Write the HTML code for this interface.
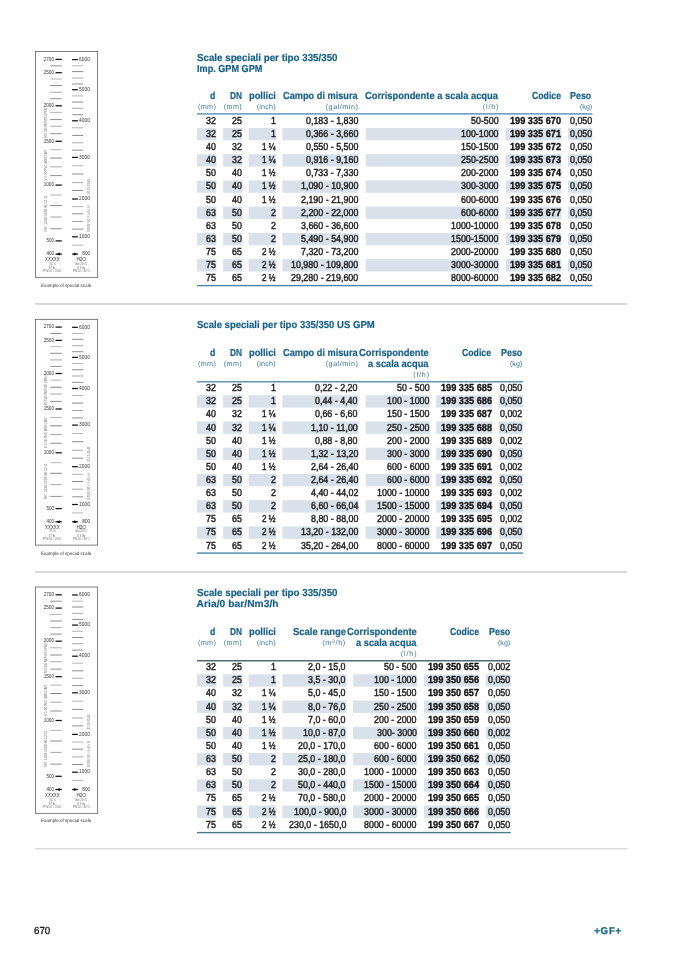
<!DOCTYPE html>
<html lang="it"><head><meta charset="utf-8"><title>Scale speciali per tipo 335/350</title>
<style>
html,body{margin:0;padding:0;background:#fff}
body{width:678px;height:959px;position:relative;overflow:hidden;font-family:"Liberation Sans",sans-serif;color:#1e1e1e}
.t{position:absolute;white-space:nowrap;line-height:1;margin:0;transform-origin:0 50%;text-rendering:geometricPrecision}
.bg{position:absolute;left:0;top:0}
sup{font-size:70%;line-height:0;vertical-align:baseline;position:relative;top:-0.4em}
</style></head><body>

<svg class="bg" width="678" height="959" viewBox="0 0 678 959">
<rect x="197.00" y="113.25" width="395.40" height="1.30" fill="#4a86ad"/>
<rect x="197.00" y="127.92" width="19.40" height="12.40" fill="#d9e2eb"/>
<rect x="223.10" y="127.92" width="19.20" height="12.40" fill="#d9e2eb"/>
<rect x="248.60" y="127.92" width="27.60" height="12.40" fill="#d9e2eb"/>
<rect x="282.40" y="127.92" width="76.10" height="12.40" fill="#d9e2eb"/>
<rect x="365.70" y="127.92" width="133.40" height="12.40" fill="#d9e2eb"/>
<rect x="505.70" y="127.92" width="55.70" height="12.40" fill="#d9e2eb"/>
<rect x="568.00" y="127.92" width="24.40" height="12.40" fill="#d9e2eb"/>
<rect x="197.00" y="154.16" width="19.40" height="12.40" fill="#d9e2eb"/>
<rect x="223.10" y="154.16" width="19.20" height="12.40" fill="#d9e2eb"/>
<rect x="248.60" y="154.16" width="27.60" height="12.40" fill="#d9e2eb"/>
<rect x="282.40" y="154.16" width="76.10" height="12.40" fill="#d9e2eb"/>
<rect x="365.70" y="154.16" width="133.40" height="12.40" fill="#d9e2eb"/>
<rect x="505.70" y="154.16" width="55.70" height="12.40" fill="#d9e2eb"/>
<rect x="568.00" y="154.16" width="24.40" height="12.40" fill="#d9e2eb"/>
<rect x="197.00" y="180.40" width="19.40" height="12.40" fill="#d9e2eb"/>
<rect x="223.10" y="180.40" width="19.20" height="12.40" fill="#d9e2eb"/>
<rect x="248.60" y="180.40" width="27.60" height="12.40" fill="#d9e2eb"/>
<rect x="282.40" y="180.40" width="76.10" height="12.40" fill="#d9e2eb"/>
<rect x="365.70" y="180.40" width="133.40" height="12.40" fill="#d9e2eb"/>
<rect x="505.70" y="180.40" width="55.70" height="12.40" fill="#d9e2eb"/>
<rect x="568.00" y="180.40" width="24.40" height="12.40" fill="#d9e2eb"/>
<rect x="197.00" y="206.64" width="19.40" height="12.40" fill="#d9e2eb"/>
<rect x="223.10" y="206.64" width="19.20" height="12.40" fill="#d9e2eb"/>
<rect x="248.60" y="206.64" width="27.60" height="12.40" fill="#d9e2eb"/>
<rect x="282.40" y="206.64" width="76.10" height="12.40" fill="#d9e2eb"/>
<rect x="365.70" y="206.64" width="133.40" height="12.40" fill="#d9e2eb"/>
<rect x="505.70" y="206.64" width="55.70" height="12.40" fill="#d9e2eb"/>
<rect x="568.00" y="206.64" width="24.40" height="12.40" fill="#d9e2eb"/>
<rect x="197.00" y="232.88" width="19.40" height="12.40" fill="#d9e2eb"/>
<rect x="223.10" y="232.88" width="19.20" height="12.40" fill="#d9e2eb"/>
<rect x="248.60" y="232.88" width="27.60" height="12.40" fill="#d9e2eb"/>
<rect x="282.40" y="232.88" width="76.10" height="12.40" fill="#d9e2eb"/>
<rect x="365.70" y="232.88" width="133.40" height="12.40" fill="#d9e2eb"/>
<rect x="505.70" y="232.88" width="55.70" height="12.40" fill="#d9e2eb"/>
<rect x="568.00" y="232.88" width="24.40" height="12.40" fill="#d9e2eb"/>
<rect x="197.00" y="259.12" width="19.40" height="12.40" fill="#d9e2eb"/>
<rect x="223.10" y="259.12" width="19.20" height="12.40" fill="#d9e2eb"/>
<rect x="248.60" y="259.12" width="27.60" height="12.40" fill="#d9e2eb"/>
<rect x="282.40" y="259.12" width="76.10" height="12.40" fill="#d9e2eb"/>
<rect x="365.70" y="259.12" width="133.40" height="12.40" fill="#d9e2eb"/>
<rect x="505.70" y="259.12" width="55.70" height="12.40" fill="#d9e2eb"/>
<rect x="568.00" y="259.12" width="24.40" height="12.40" fill="#d9e2eb"/>
<rect x="197.00" y="284.90" width="395.40" height="1.40" fill="#4a86ad"/>
<rect x="197.00" y="381.15" width="326.20" height="1.30" fill="#4a86ad"/>
<rect x="197.00" y="395.22" width="19.40" height="12.40" fill="#d9e2eb"/>
<rect x="223.10" y="395.22" width="19.20" height="12.40" fill="#d9e2eb"/>
<rect x="248.60" y="395.22" width="27.60" height="12.40" fill="#d9e2eb"/>
<rect x="282.40" y="395.22" width="76.10" height="12.40" fill="#d9e2eb"/>
<rect x="365.70" y="395.22" width="64.00" height="12.40" fill="#d9e2eb"/>
<rect x="436.20" y="395.22" width="56.00" height="12.40" fill="#d9e2eb"/>
<rect x="498.80" y="395.22" width="24.40" height="12.40" fill="#d9e2eb"/>
<rect x="197.00" y="421.46" width="19.40" height="12.40" fill="#d9e2eb"/>
<rect x="223.10" y="421.46" width="19.20" height="12.40" fill="#d9e2eb"/>
<rect x="248.60" y="421.46" width="27.60" height="12.40" fill="#d9e2eb"/>
<rect x="282.40" y="421.46" width="76.10" height="12.40" fill="#d9e2eb"/>
<rect x="365.70" y="421.46" width="64.00" height="12.40" fill="#d9e2eb"/>
<rect x="436.20" y="421.46" width="56.00" height="12.40" fill="#d9e2eb"/>
<rect x="498.80" y="421.46" width="24.40" height="12.40" fill="#d9e2eb"/>
<rect x="197.00" y="447.70" width="19.40" height="12.40" fill="#d9e2eb"/>
<rect x="223.10" y="447.70" width="19.20" height="12.40" fill="#d9e2eb"/>
<rect x="248.60" y="447.70" width="27.60" height="12.40" fill="#d9e2eb"/>
<rect x="282.40" y="447.70" width="76.10" height="12.40" fill="#d9e2eb"/>
<rect x="365.70" y="447.70" width="64.00" height="12.40" fill="#d9e2eb"/>
<rect x="436.20" y="447.70" width="56.00" height="12.40" fill="#d9e2eb"/>
<rect x="498.80" y="447.70" width="24.40" height="12.40" fill="#d9e2eb"/>
<rect x="197.00" y="473.94" width="19.40" height="12.40" fill="#d9e2eb"/>
<rect x="223.10" y="473.94" width="19.20" height="12.40" fill="#d9e2eb"/>
<rect x="248.60" y="473.94" width="27.60" height="12.40" fill="#d9e2eb"/>
<rect x="282.40" y="473.94" width="76.10" height="12.40" fill="#d9e2eb"/>
<rect x="365.70" y="473.94" width="64.00" height="12.40" fill="#d9e2eb"/>
<rect x="436.20" y="473.94" width="56.00" height="12.40" fill="#d9e2eb"/>
<rect x="498.80" y="473.94" width="24.40" height="12.40" fill="#d9e2eb"/>
<rect x="197.00" y="500.18" width="19.40" height="12.40" fill="#d9e2eb"/>
<rect x="223.10" y="500.18" width="19.20" height="12.40" fill="#d9e2eb"/>
<rect x="248.60" y="500.18" width="27.60" height="12.40" fill="#d9e2eb"/>
<rect x="282.40" y="500.18" width="76.10" height="12.40" fill="#d9e2eb"/>
<rect x="365.70" y="500.18" width="64.00" height="12.40" fill="#d9e2eb"/>
<rect x="436.20" y="500.18" width="56.00" height="12.40" fill="#d9e2eb"/>
<rect x="498.80" y="500.18" width="24.40" height="12.40" fill="#d9e2eb"/>
<rect x="197.00" y="526.42" width="19.40" height="12.40" fill="#d9e2eb"/>
<rect x="223.10" y="526.42" width="19.20" height="12.40" fill="#d9e2eb"/>
<rect x="248.60" y="526.42" width="27.60" height="12.40" fill="#d9e2eb"/>
<rect x="282.40" y="526.42" width="76.10" height="12.40" fill="#d9e2eb"/>
<rect x="365.70" y="526.42" width="64.00" height="12.40" fill="#d9e2eb"/>
<rect x="436.20" y="526.42" width="56.00" height="12.40" fill="#d9e2eb"/>
<rect x="498.80" y="526.42" width="24.40" height="12.40" fill="#d9e2eb"/>
<rect x="197.00" y="552.40" width="326.20" height="1.40" fill="#4a86ad"/>
<rect x="197.00" y="660.15" width="313.60" height="1.30" fill="#3a5663"/>
<rect x="197.00" y="674.32" width="19.40" height="12.40" fill="#d9e2eb"/>
<rect x="223.10" y="674.32" width="19.20" height="12.40" fill="#d9e2eb"/>
<rect x="248.60" y="674.32" width="27.60" height="12.40" fill="#d9e2eb"/>
<rect x="282.40" y="674.32" width="64.00" height="12.40" fill="#d9e2eb"/>
<rect x="353.10" y="674.32" width="64.10" height="12.40" fill="#d9e2eb"/>
<rect x="423.90" y="674.32" width="55.40" height="12.40" fill="#d9e2eb"/>
<rect x="485.80" y="674.32" width="24.80" height="12.40" fill="#d9e2eb"/>
<rect x="197.00" y="700.56" width="19.40" height="12.40" fill="#d9e2eb"/>
<rect x="223.10" y="700.56" width="19.20" height="12.40" fill="#d9e2eb"/>
<rect x="248.60" y="700.56" width="27.60" height="12.40" fill="#d9e2eb"/>
<rect x="282.40" y="700.56" width="64.00" height="12.40" fill="#d9e2eb"/>
<rect x="353.10" y="700.56" width="64.10" height="12.40" fill="#d9e2eb"/>
<rect x="423.90" y="700.56" width="55.40" height="12.40" fill="#d9e2eb"/>
<rect x="485.80" y="700.56" width="24.80" height="12.40" fill="#d9e2eb"/>
<rect x="197.00" y="726.80" width="19.40" height="12.40" fill="#d9e2eb"/>
<rect x="223.10" y="726.80" width="19.20" height="12.40" fill="#d9e2eb"/>
<rect x="248.60" y="726.80" width="27.60" height="12.40" fill="#d9e2eb"/>
<rect x="282.40" y="726.80" width="64.00" height="12.40" fill="#d9e2eb"/>
<rect x="353.10" y="726.80" width="64.10" height="12.40" fill="#d9e2eb"/>
<rect x="423.90" y="726.80" width="55.40" height="12.40" fill="#d9e2eb"/>
<rect x="485.80" y="726.80" width="24.80" height="12.40" fill="#d9e2eb"/>
<rect x="197.00" y="753.04" width="19.40" height="12.40" fill="#d9e2eb"/>
<rect x="223.10" y="753.04" width="19.20" height="12.40" fill="#d9e2eb"/>
<rect x="248.60" y="753.04" width="27.60" height="12.40" fill="#d9e2eb"/>
<rect x="282.40" y="753.04" width="64.00" height="12.40" fill="#d9e2eb"/>
<rect x="353.10" y="753.04" width="64.10" height="12.40" fill="#d9e2eb"/>
<rect x="423.90" y="753.04" width="55.40" height="12.40" fill="#d9e2eb"/>
<rect x="485.80" y="753.04" width="24.80" height="12.40" fill="#d9e2eb"/>
<rect x="197.00" y="779.28" width="19.40" height="12.40" fill="#d9e2eb"/>
<rect x="223.10" y="779.28" width="19.20" height="12.40" fill="#d9e2eb"/>
<rect x="248.60" y="779.28" width="27.60" height="12.40" fill="#d9e2eb"/>
<rect x="282.40" y="779.28" width="64.00" height="12.40" fill="#d9e2eb"/>
<rect x="353.10" y="779.28" width="64.10" height="12.40" fill="#d9e2eb"/>
<rect x="423.90" y="779.28" width="55.40" height="12.40" fill="#d9e2eb"/>
<rect x="485.80" y="779.28" width="24.80" height="12.40" fill="#d9e2eb"/>
<rect x="197.00" y="805.52" width="19.40" height="12.40" fill="#d9e2eb"/>
<rect x="223.10" y="805.52" width="19.20" height="12.40" fill="#d9e2eb"/>
<rect x="248.60" y="805.52" width="27.60" height="12.40" fill="#d9e2eb"/>
<rect x="282.40" y="805.52" width="64.00" height="12.40" fill="#d9e2eb"/>
<rect x="353.10" y="805.52" width="64.10" height="12.40" fill="#d9e2eb"/>
<rect x="423.90" y="805.52" width="55.40" height="12.40" fill="#d9e2eb"/>
<rect x="485.80" y="805.52" width="24.80" height="12.40" fill="#d9e2eb"/>
<rect x="197.00" y="831.90" width="313.60" height="1.40" fill="#4a7a88"/>
<rect x="35.20" y="303.10" width="592.00" height="1.70" fill="#d2d2d2"/>
<rect x="35.20" y="571.00" width="592.00" height="2.00" fill="#dadada"/>
<rect x="35.20" y="848.05" width="592.00" height="1.30" fill="#d4d4d4"/>
</svg>
<svg class="bg" width="678" height="959" viewBox="0 0 678 959" font-family="Liberation Sans, sans-serif">
<g transform="translate(0 0)"><rect x="35.5" y="51.6" width="62.2" height="225.7" fill="#fff" stroke="#4a4a4a" stroke-width="0.7"/><line x1="50.20" x2="61.80" y1="65.80" y2="65.80" stroke="#555" stroke-width="0.65"/><line x1="50.20" x2="61.80" y1="79.00" y2="79.00" stroke="#8c8c8c" stroke-width="0.65"/><line x1="50.20" x2="61.80" y1="85.60" y2="85.60" stroke="#4a4a4a" stroke-width="0.65"/><line x1="50.20" x2="61.80" y1="92.20" y2="92.20" stroke="#7a7a7a" stroke-width="0.65"/><line x1="50.20" x2="61.80" y1="98.70" y2="98.70" stroke="#555" stroke-width="0.65"/><line x1="50.20" x2="61.80" y1="112.40" y2="112.40" stroke="#8c8c8c" stroke-width="0.65"/><line x1="50.20" x2="61.80" y1="119.60" y2="119.60" stroke="#4a4a4a" stroke-width="0.65"/><line x1="50.20" x2="61.80" y1="126.30" y2="126.30" stroke="#7a7a7a" stroke-width="0.65"/><line x1="50.20" x2="61.80" y1="133.70" y2="133.70" stroke="#555" stroke-width="0.65"/><line x1="50.20" x2="61.80" y1="149.70" y2="149.70" stroke="#8c8c8c" stroke-width="0.65"/><line x1="50.20" x2="61.80" y1="158.10" y2="158.10" stroke="#4a4a4a" stroke-width="0.65"/><line x1="50.20" x2="61.80" y1="166.80" y2="166.80" stroke="#7a7a7a" stroke-width="0.65"/><line x1="50.20" x2="61.80" y1="175.60" y2="175.60" stroke="#555" stroke-width="0.65"/><line x1="50.20" x2="61.80" y1="195.00" y2="195.00" stroke="#8c8c8c" stroke-width="0.65"/><line x1="50.20" x2="61.80" y1="205.60" y2="205.60" stroke="#4a4a4a" stroke-width="0.65"/><line x1="50.20" x2="61.80" y1="217.00" y2="217.00" stroke="#7a7a7a" stroke-width="0.65"/><line x1="50.20" x2="61.80" y1="228.70" y2="228.70" stroke="#555" stroke-width="0.65"/><line x1="72.10" x2="83.20" y1="65.80" y2="65.80" stroke="#8c8c8c" stroke-width="0.65"/><line x1="72.10" x2="83.20" y1="71.60" y2="71.60" stroke="#4a4a4a" stroke-width="0.65"/><line x1="72.10" x2="83.20" y1="78.00" y2="78.00" stroke="#7a7a7a" stroke-width="0.65"/><line x1="72.10" x2="83.20" y1="84.00" y2="84.00" stroke="#555" stroke-width="0.65"/><line x1="72.10" x2="83.20" y1="95.90" y2="95.90" stroke="#8c8c8c" stroke-width="0.65"/><line x1="72.10" x2="83.20" y1="102.10" y2="102.10" stroke="#4a4a4a" stroke-width="0.65"/><line x1="72.10" x2="83.20" y1="108.30" y2="108.30" stroke="#7a7a7a" stroke-width="0.65"/><line x1="72.10" x2="83.20" y1="114.70" y2="114.70" stroke="#555" stroke-width="0.65"/><line x1="72.10" x2="83.20" y1="127.80" y2="127.80" stroke="#8c8c8c" stroke-width="0.65"/><line x1="72.10" x2="83.20" y1="135.40" y2="135.40" stroke="#4a4a4a" stroke-width="0.65"/><line x1="72.10" x2="83.20" y1="142.80" y2="142.80" stroke="#7a7a7a" stroke-width="0.65"/><line x1="72.10" x2="83.20" y1="150.20" y2="150.20" stroke="#555" stroke-width="0.65"/><line x1="72.10" x2="83.20" y1="165.80" y2="165.80" stroke="#8c8c8c" stroke-width="0.65"/><line x1="72.10" x2="83.20" y1="174.00" y2="174.00" stroke="#4a4a4a" stroke-width="0.65"/><line x1="72.10" x2="83.20" y1="182.60" y2="182.60" stroke="#7a7a7a" stroke-width="0.65"/><line x1="72.10" x2="83.20" y1="190.50" y2="190.50" stroke="#555" stroke-width="0.65"/><line x1="72.10" x2="83.20" y1="206.60" y2="206.60" stroke="#8c8c8c" stroke-width="0.65"/><line x1="72.10" x2="83.20" y1="213.80" y2="213.80" stroke="#4a4a4a" stroke-width="0.65"/><line x1="72.10" x2="83.20" y1="221.50" y2="221.50" stroke="#7a7a7a" stroke-width="0.65"/><line x1="72.10" x2="83.20" y1="229.10" y2="229.10" stroke="#555" stroke-width="0.65"/><line x1="72.10" x2="83.20" y1="245.20" y2="245.20" stroke="#8c8c8c" stroke-width="0.65"/><line x1="55.50" x2="61.80" y1="59.40" y2="59.40" stroke="#111" stroke-width="1.25"/><text x="54.00" y="60.70" font-size="4.9" text-anchor="end" fill="#333" textLength="10.3" lengthAdjust="spacingAndGlyphs">2700</text><line x1="55.50" x2="61.80" y1="72.70" y2="72.70" stroke="#111" stroke-width="1.25"/><text x="54.00" y="74.00" font-size="4.9" text-anchor="end" fill="#333" textLength="10.3" lengthAdjust="spacingAndGlyphs">2500</text><line x1="55.50" x2="61.80" y1="105.80" y2="105.80" stroke="#111" stroke-width="1.25"/><text x="54.00" y="107.10" font-size="4.9" text-anchor="end" fill="#333" textLength="10.3" lengthAdjust="spacingAndGlyphs">2000</text><line x1="55.50" x2="61.80" y1="141.30" y2="141.30" stroke="#111" stroke-width="1.25"/><text x="54.00" y="142.60" font-size="4.9" text-anchor="end" fill="#333" textLength="10.3" lengthAdjust="spacingAndGlyphs">1500</text><line x1="55.50" x2="61.80" y1="185.10" y2="185.10" stroke="#111" stroke-width="1.25"/><text x="54.00" y="186.40" font-size="4.9" text-anchor="end" fill="#333" textLength="10.3" lengthAdjust="spacingAndGlyphs">1000</text><line x1="55.50" x2="61.80" y1="240.90" y2="240.90" stroke="#111" stroke-width="1.25"/><text x="54.00" y="242.20" font-size="4.9" text-anchor="end" fill="#333" textLength="7.6" lengthAdjust="spacingAndGlyphs">500</text><line x1="72.10" x2="77.90" y1="59.60" y2="59.60" stroke="#111" stroke-width="1.25"/><text x="79.10" y="60.90" font-size="4.9" text-anchor="start" fill="#333" textLength="10.8" lengthAdjust="spacingAndGlyphs">6000</text><line x1="72.10" x2="77.90" y1="89.70" y2="89.70" stroke="#111" stroke-width="1.25"/><text x="79.10" y="91.00" font-size="4.9" text-anchor="start" fill="#333" textLength="10.8" lengthAdjust="spacingAndGlyphs">5000</text><line x1="72.10" x2="77.90" y1="120.80" y2="120.80" stroke="#111" stroke-width="1.25"/><text x="79.10" y="122.10" font-size="4.9" text-anchor="start" fill="#333" textLength="10.8" lengthAdjust="spacingAndGlyphs">4000</text><line x1="72.10" x2="77.90" y1="157.40" y2="157.40" stroke="#111" stroke-width="1.25"/><text x="79.10" y="158.70" font-size="4.9" text-anchor="start" fill="#333" textLength="10.8" lengthAdjust="spacingAndGlyphs">3000</text><line x1="72.10" x2="77.90" y1="199.00" y2="199.00" stroke="#111" stroke-width="1.25"/><text x="79.10" y="200.30" font-size="4.9" text-anchor="start" fill="#333" textLength="10.8" lengthAdjust="spacingAndGlyphs">2000</text><line x1="72.10" x2="77.90" y1="236.80" y2="236.80" stroke="#111" stroke-width="1.25"/><text x="79.10" y="238.10" font-size="4.9" text-anchor="start" fill="#333" textLength="10.8" lengthAdjust="spacingAndGlyphs">1000</text><line x1="55.50" x2="61.80" y1="254.10" y2="254.10" stroke="#111" stroke-width="1.25"/><path d="M57.50 253.50 L59.90 252.60 L59.90 255.60 L57.50 254.70Z" fill="#111"/><text x="54.00" y="255.40" font-size="4.9" text-anchor="end" fill="#333" textLength="7.6" lengthAdjust="spacingAndGlyphs">400</text><line x1="72.10" x2="77.90" y1="254.10" y2="254.10" stroke="#111" stroke-width="1.25"/><path d="M76.30 253.50 L73.90 252.60 L73.90 255.60 L76.30 254.70Z" fill="#111"/><text x="90.10" y="255.40" font-size="4.9" text-anchor="end" fill="#333" textLength="7.8" lengthAdjust="spacingAndGlyphs">800</text><text x="52.40" y="261.10" font-size="4.7" text-anchor="middle" fill="#333" textLength="14.6" lengthAdjust="spacingAndGlyphs">XXXXX</text><text x="81.20" y="261.10" font-size="4.7" text-anchor="middle" fill="#333" textLength="9.6" lengthAdjust="spacingAndGlyphs">H2O</text><text x="52.60" y="264.80" font-size="3.1" text-anchor="middle" fill="#666" textLength="6.6" lengthAdjust="spacingAndGlyphs">XX %</text><text x="81.20" y="264.80" font-size="3.1" text-anchor="middle" fill="#666" textLength="11.2" lengthAdjust="spacingAndGlyphs">bei 20°C</text><text x="51.90" y="269.00" font-size="4.0" text-anchor="middle" fill="#333" textLength="5.8" lengthAdjust="spacingAndGlyphs">l / h</text><text x="81.30" y="269.00" font-size="4.0" text-anchor="middle" fill="#333" textLength="7.4" lengthAdjust="spacingAndGlyphs">l / h</text><text x="52.00" y="272.20" font-size="2.7" text-anchor="middle" fill="#777" textLength="18.0" lengthAdjust="spacingAndGlyphs">PN10 / 200</text><text x="81.70" y="272.20" font-size="2.7" text-anchor="middle" fill="#777" textLength="18.0" lengthAdjust="spacingAndGlyphs">PN10 / 40°C</text><text transform="translate(46.60 137.90) rotate(-90)" font-size="2.6" fill="#6e6e6e" textLength="30" lengthAdjust="spacingAndGlyphs">SGT 335 PA PVDF EPDM</text><text transform="translate(46.60 180.40) rotate(-90)" font-size="2.6" fill="#6e6e6e" textLength="31" lengthAdjust="spacingAndGlyphs">V 5.50 PVC 40857 A/T</text><text transform="translate(46.60 231.40) rotate(-90)" font-size="2.6" fill="#6e6e6e" textLength="36" lengthAdjust="spacingAndGlyphs">NR. 1234 5678 90 12 11</text><text transform="translate(90.10 193.90) rotate(-90)" font-size="2.6" fill="#6e6e6e" textLength="15" lengthAdjust="spacingAndGlyphs">ID 19 23 45</text><text transform="translate(90.10 231.70) rotate(-90)" font-size="2.6" fill="#6e6e6e" textLength="26.5" lengthAdjust="spacingAndGlyphs">GEORG FISCHER +GF+ SK</text></g>
<g transform="translate(0 267.7)"><rect x="35.5" y="51.6" width="62.2" height="225.8" fill="#fff" stroke="#4a4a4a" stroke-width="0.7"/><line x1="50.20" x2="61.80" y1="65.80" y2="65.80" stroke="#555" stroke-width="0.65"/><line x1="50.20" x2="61.80" y1="79.00" y2="79.00" stroke="#8c8c8c" stroke-width="0.65"/><line x1="50.20" x2="61.80" y1="85.60" y2="85.60" stroke="#4a4a4a" stroke-width="0.65"/><line x1="50.20" x2="61.80" y1="92.20" y2="92.20" stroke="#7a7a7a" stroke-width="0.65"/><line x1="50.20" x2="61.80" y1="98.70" y2="98.70" stroke="#555" stroke-width="0.65"/><line x1="50.20" x2="61.80" y1="112.40" y2="112.40" stroke="#8c8c8c" stroke-width="0.65"/><line x1="50.20" x2="61.80" y1="119.60" y2="119.60" stroke="#4a4a4a" stroke-width="0.65"/><line x1="50.20" x2="61.80" y1="126.30" y2="126.30" stroke="#7a7a7a" stroke-width="0.65"/><line x1="50.20" x2="61.80" y1="133.70" y2="133.70" stroke="#555" stroke-width="0.65"/><line x1="50.20" x2="61.80" y1="149.70" y2="149.70" stroke="#8c8c8c" stroke-width="0.65"/><line x1="50.20" x2="61.80" y1="158.10" y2="158.10" stroke="#4a4a4a" stroke-width="0.65"/><line x1="50.20" x2="61.80" y1="166.80" y2="166.80" stroke="#7a7a7a" stroke-width="0.65"/><line x1="50.20" x2="61.80" y1="175.60" y2="175.60" stroke="#555" stroke-width="0.65"/><line x1="50.20" x2="61.80" y1="195.00" y2="195.00" stroke="#8c8c8c" stroke-width="0.65"/><line x1="50.20" x2="61.80" y1="205.60" y2="205.60" stroke="#4a4a4a" stroke-width="0.65"/><line x1="50.20" x2="61.80" y1="217.00" y2="217.00" stroke="#7a7a7a" stroke-width="0.65"/><line x1="50.20" x2="61.80" y1="228.70" y2="228.70" stroke="#555" stroke-width="0.65"/><line x1="72.10" x2="83.20" y1="65.80" y2="65.80" stroke="#8c8c8c" stroke-width="0.65"/><line x1="72.10" x2="83.20" y1="71.60" y2="71.60" stroke="#4a4a4a" stroke-width="0.65"/><line x1="72.10" x2="83.20" y1="78.00" y2="78.00" stroke="#7a7a7a" stroke-width="0.65"/><line x1="72.10" x2="83.20" y1="84.00" y2="84.00" stroke="#555" stroke-width="0.65"/><line x1="72.10" x2="83.20" y1="95.90" y2="95.90" stroke="#8c8c8c" stroke-width="0.65"/><line x1="72.10" x2="83.20" y1="102.10" y2="102.10" stroke="#4a4a4a" stroke-width="0.65"/><line x1="72.10" x2="83.20" y1="108.30" y2="108.30" stroke="#7a7a7a" stroke-width="0.65"/><line x1="72.10" x2="83.20" y1="114.70" y2="114.70" stroke="#555" stroke-width="0.65"/><line x1="72.10" x2="83.20" y1="127.80" y2="127.80" stroke="#8c8c8c" stroke-width="0.65"/><line x1="72.10" x2="83.20" y1="135.40" y2="135.40" stroke="#4a4a4a" stroke-width="0.65"/><line x1="72.10" x2="83.20" y1="142.80" y2="142.80" stroke="#7a7a7a" stroke-width="0.65"/><line x1="72.10" x2="83.20" y1="150.20" y2="150.20" stroke="#555" stroke-width="0.65"/><line x1="72.10" x2="83.20" y1="165.80" y2="165.80" stroke="#8c8c8c" stroke-width="0.65"/><line x1="72.10" x2="83.20" y1="174.00" y2="174.00" stroke="#4a4a4a" stroke-width="0.65"/><line x1="72.10" x2="83.20" y1="182.60" y2="182.60" stroke="#7a7a7a" stroke-width="0.65"/><line x1="72.10" x2="83.20" y1="190.50" y2="190.50" stroke="#555" stroke-width="0.65"/><line x1="72.10" x2="83.20" y1="206.60" y2="206.60" stroke="#8c8c8c" stroke-width="0.65"/><line x1="72.10" x2="83.20" y1="213.80" y2="213.80" stroke="#4a4a4a" stroke-width="0.65"/><line x1="72.10" x2="83.20" y1="221.50" y2="221.50" stroke="#7a7a7a" stroke-width="0.65"/><line x1="72.10" x2="83.20" y1="229.10" y2="229.10" stroke="#555" stroke-width="0.65"/><line x1="72.10" x2="83.20" y1="245.20" y2="245.20" stroke="#8c8c8c" stroke-width="0.65"/><line x1="55.50" x2="61.80" y1="59.40" y2="59.40" stroke="#111" stroke-width="1.25"/><text x="54.00" y="60.70" font-size="4.9" text-anchor="end" fill="#333" textLength="10.3" lengthAdjust="spacingAndGlyphs">2700</text><line x1="55.50" x2="61.80" y1="72.70" y2="72.70" stroke="#111" stroke-width="1.25"/><text x="54.00" y="74.00" font-size="4.9" text-anchor="end" fill="#333" textLength="10.3" lengthAdjust="spacingAndGlyphs">2500</text><line x1="55.50" x2="61.80" y1="105.80" y2="105.80" stroke="#111" stroke-width="1.25"/><text x="54.00" y="107.10" font-size="4.9" text-anchor="end" fill="#333" textLength="10.3" lengthAdjust="spacingAndGlyphs">2000</text><line x1="55.50" x2="61.80" y1="141.30" y2="141.30" stroke="#111" stroke-width="1.25"/><text x="54.00" y="142.60" font-size="4.9" text-anchor="end" fill="#333" textLength="10.3" lengthAdjust="spacingAndGlyphs">1500</text><line x1="55.50" x2="61.80" y1="185.10" y2="185.10" stroke="#111" stroke-width="1.25"/><text x="54.00" y="186.40" font-size="4.9" text-anchor="end" fill="#333" textLength="10.3" lengthAdjust="spacingAndGlyphs">1000</text><line x1="55.50" x2="61.80" y1="240.90" y2="240.90" stroke="#111" stroke-width="1.25"/><text x="54.00" y="242.20" font-size="4.9" text-anchor="end" fill="#333" textLength="7.6" lengthAdjust="spacingAndGlyphs">500</text><line x1="72.10" x2="77.90" y1="59.60" y2="59.60" stroke="#111" stroke-width="1.25"/><text x="79.10" y="60.90" font-size="4.9" text-anchor="start" fill="#333" textLength="10.8" lengthAdjust="spacingAndGlyphs">6000</text><line x1="72.10" x2="77.90" y1="89.70" y2="89.70" stroke="#111" stroke-width="1.25"/><text x="79.10" y="91.00" font-size="4.9" text-anchor="start" fill="#333" textLength="10.8" lengthAdjust="spacingAndGlyphs">5000</text><line x1="72.10" x2="77.90" y1="120.80" y2="120.80" stroke="#111" stroke-width="1.25"/><text x="79.10" y="122.10" font-size="4.9" text-anchor="start" fill="#333" textLength="10.8" lengthAdjust="spacingAndGlyphs">4000</text><line x1="72.10" x2="77.90" y1="157.40" y2="157.40" stroke="#111" stroke-width="1.25"/><text x="79.10" y="158.70" font-size="4.9" text-anchor="start" fill="#333" textLength="10.8" lengthAdjust="spacingAndGlyphs">3000</text><line x1="72.10" x2="77.90" y1="199.00" y2="199.00" stroke="#111" stroke-width="1.25"/><text x="79.10" y="200.30" font-size="4.9" text-anchor="start" fill="#333" textLength="10.8" lengthAdjust="spacingAndGlyphs">2000</text><line x1="72.10" x2="77.90" y1="236.80" y2="236.80" stroke="#111" stroke-width="1.25"/><text x="79.10" y="238.10" font-size="4.9" text-anchor="start" fill="#333" textLength="10.8" lengthAdjust="spacingAndGlyphs">1000</text><line x1="55.50" x2="61.80" y1="254.10" y2="254.10" stroke="#111" stroke-width="1.25"/><path d="M57.50 253.50 L59.90 252.60 L59.90 255.60 L57.50 254.70Z" fill="#111"/><text x="54.00" y="255.40" font-size="4.9" text-anchor="end" fill="#333" textLength="7.6" lengthAdjust="spacingAndGlyphs">400</text><line x1="72.10" x2="77.90" y1="254.10" y2="254.10" stroke="#111" stroke-width="1.25"/><path d="M76.30 253.50 L73.90 252.60 L73.90 255.60 L76.30 254.70Z" fill="#111"/><text x="90.10" y="255.40" font-size="4.9" text-anchor="end" fill="#333" textLength="7.8" lengthAdjust="spacingAndGlyphs">800</text><text x="52.40" y="261.10" font-size="4.7" text-anchor="middle" fill="#333" textLength="14.6" lengthAdjust="spacingAndGlyphs">XXXXX</text><text x="81.20" y="261.10" font-size="4.7" text-anchor="middle" fill="#333" textLength="9.6" lengthAdjust="spacingAndGlyphs">H2O</text><text x="52.60" y="264.80" font-size="3.1" text-anchor="middle" fill="#666" textLength="6.6" lengthAdjust="spacingAndGlyphs">XX %</text><text x="81.20" y="264.80" font-size="3.1" text-anchor="middle" fill="#666" textLength="11.2" lengthAdjust="spacingAndGlyphs">bei 20°C</text><text x="51.90" y="269.00" font-size="4.0" text-anchor="middle" fill="#333" textLength="5.8" lengthAdjust="spacingAndGlyphs">l / h</text><text x="81.30" y="269.00" font-size="4.0" text-anchor="middle" fill="#333" textLength="7.4" lengthAdjust="spacingAndGlyphs">l / h</text><text x="52.00" y="272.20" font-size="2.7" text-anchor="middle" fill="#777" textLength="18.0" lengthAdjust="spacingAndGlyphs">PN10 / 200</text><text x="81.70" y="272.20" font-size="2.7" text-anchor="middle" fill="#777" textLength="18.0" lengthAdjust="spacingAndGlyphs">PN10 / 40°C</text><text transform="translate(46.60 137.90) rotate(-90)" font-size="2.6" fill="#6e6e6e" textLength="30" lengthAdjust="spacingAndGlyphs">SGT 335 PA PVDF EPDM</text><text transform="translate(46.60 180.40) rotate(-90)" font-size="2.6" fill="#6e6e6e" textLength="31" lengthAdjust="spacingAndGlyphs">V 5.50 PVC 40857 A/T</text><text transform="translate(46.60 231.40) rotate(-90)" font-size="2.6" fill="#6e6e6e" textLength="36" lengthAdjust="spacingAndGlyphs">NR. 1234 5678 90 12 11</text><text transform="translate(90.10 193.90) rotate(-90)" font-size="2.6" fill="#6e6e6e" textLength="15" lengthAdjust="spacingAndGlyphs">ID 19 23 45</text><text transform="translate(90.10 231.70) rotate(-90)" font-size="2.6" fill="#6e6e6e" textLength="26.5" lengthAdjust="spacingAndGlyphs">GEORG FISCHER +GF+ SK</text></g>
<g transform="translate(0 535.4)"><rect x="35.5" y="51.6" width="62.2" height="226.3" fill="#fff" stroke="#4a4a4a" stroke-width="0.7"/><line x1="50.20" x2="61.80" y1="65.80" y2="65.80" stroke="#555" stroke-width="0.65"/><line x1="50.20" x2="61.80" y1="79.00" y2="79.00" stroke="#8c8c8c" stroke-width="0.65"/><line x1="50.20" x2="61.80" y1="85.60" y2="85.60" stroke="#4a4a4a" stroke-width="0.65"/><line x1="50.20" x2="61.80" y1="92.20" y2="92.20" stroke="#7a7a7a" stroke-width="0.65"/><line x1="50.20" x2="61.80" y1="98.70" y2="98.70" stroke="#555" stroke-width="0.65"/><line x1="50.20" x2="61.80" y1="112.40" y2="112.40" stroke="#8c8c8c" stroke-width="0.65"/><line x1="50.20" x2="61.80" y1="119.60" y2="119.60" stroke="#4a4a4a" stroke-width="0.65"/><line x1="50.20" x2="61.80" y1="126.30" y2="126.30" stroke="#7a7a7a" stroke-width="0.65"/><line x1="50.20" x2="61.80" y1="133.70" y2="133.70" stroke="#555" stroke-width="0.65"/><line x1="50.20" x2="61.80" y1="149.70" y2="149.70" stroke="#8c8c8c" stroke-width="0.65"/><line x1="50.20" x2="61.80" y1="158.10" y2="158.10" stroke="#4a4a4a" stroke-width="0.65"/><line x1="50.20" x2="61.80" y1="166.80" y2="166.80" stroke="#7a7a7a" stroke-width="0.65"/><line x1="50.20" x2="61.80" y1="175.60" y2="175.60" stroke="#555" stroke-width="0.65"/><line x1="50.20" x2="61.80" y1="195.00" y2="195.00" stroke="#8c8c8c" stroke-width="0.65"/><line x1="50.20" x2="61.80" y1="205.60" y2="205.60" stroke="#4a4a4a" stroke-width="0.65"/><line x1="50.20" x2="61.80" y1="217.00" y2="217.00" stroke="#7a7a7a" stroke-width="0.65"/><line x1="50.20" x2="61.80" y1="228.70" y2="228.70" stroke="#555" stroke-width="0.65"/><line x1="72.10" x2="83.20" y1="65.80" y2="65.80" stroke="#8c8c8c" stroke-width="0.65"/><line x1="72.10" x2="83.20" y1="71.60" y2="71.60" stroke="#4a4a4a" stroke-width="0.65"/><line x1="72.10" x2="83.20" y1="78.00" y2="78.00" stroke="#7a7a7a" stroke-width="0.65"/><line x1="72.10" x2="83.20" y1="84.00" y2="84.00" stroke="#555" stroke-width="0.65"/><line x1="72.10" x2="83.20" y1="95.90" y2="95.90" stroke="#8c8c8c" stroke-width="0.65"/><line x1="72.10" x2="83.20" y1="102.10" y2="102.10" stroke="#4a4a4a" stroke-width="0.65"/><line x1="72.10" x2="83.20" y1="108.30" y2="108.30" stroke="#7a7a7a" stroke-width="0.65"/><line x1="72.10" x2="83.20" y1="114.70" y2="114.70" stroke="#555" stroke-width="0.65"/><line x1="72.10" x2="83.20" y1="127.80" y2="127.80" stroke="#8c8c8c" stroke-width="0.65"/><line x1="72.10" x2="83.20" y1="135.40" y2="135.40" stroke="#4a4a4a" stroke-width="0.65"/><line x1="72.10" x2="83.20" y1="142.80" y2="142.80" stroke="#7a7a7a" stroke-width="0.65"/><line x1="72.10" x2="83.20" y1="150.20" y2="150.20" stroke="#555" stroke-width="0.65"/><line x1="72.10" x2="83.20" y1="165.80" y2="165.80" stroke="#8c8c8c" stroke-width="0.65"/><line x1="72.10" x2="83.20" y1="174.00" y2="174.00" stroke="#4a4a4a" stroke-width="0.65"/><line x1="72.10" x2="83.20" y1="182.60" y2="182.60" stroke="#7a7a7a" stroke-width="0.65"/><line x1="72.10" x2="83.20" y1="190.50" y2="190.50" stroke="#555" stroke-width="0.65"/><line x1="72.10" x2="83.20" y1="206.60" y2="206.60" stroke="#8c8c8c" stroke-width="0.65"/><line x1="72.10" x2="83.20" y1="213.80" y2="213.80" stroke="#4a4a4a" stroke-width="0.65"/><line x1="72.10" x2="83.20" y1="221.50" y2="221.50" stroke="#7a7a7a" stroke-width="0.65"/><line x1="72.10" x2="83.20" y1="229.10" y2="229.10" stroke="#555" stroke-width="0.65"/><line x1="72.10" x2="83.20" y1="245.20" y2="245.20" stroke="#8c8c8c" stroke-width="0.65"/><line x1="55.50" x2="61.80" y1="59.40" y2="59.40" stroke="#111" stroke-width="1.25"/><text x="54.00" y="60.70" font-size="4.9" text-anchor="end" fill="#333" textLength="10.3" lengthAdjust="spacingAndGlyphs">2700</text><line x1="55.50" x2="61.80" y1="72.70" y2="72.70" stroke="#111" stroke-width="1.25"/><text x="54.00" y="74.00" font-size="4.9" text-anchor="end" fill="#333" textLength="10.3" lengthAdjust="spacingAndGlyphs">2500</text><line x1="55.50" x2="61.80" y1="105.80" y2="105.80" stroke="#111" stroke-width="1.25"/><text x="54.00" y="107.10" font-size="4.9" text-anchor="end" fill="#333" textLength="10.3" lengthAdjust="spacingAndGlyphs">2000</text><line x1="55.50" x2="61.80" y1="141.30" y2="141.30" stroke="#111" stroke-width="1.25"/><text x="54.00" y="142.60" font-size="4.9" text-anchor="end" fill="#333" textLength="10.3" lengthAdjust="spacingAndGlyphs">1500</text><line x1="55.50" x2="61.80" y1="185.10" y2="185.10" stroke="#111" stroke-width="1.25"/><text x="54.00" y="186.40" font-size="4.9" text-anchor="end" fill="#333" textLength="10.3" lengthAdjust="spacingAndGlyphs">1000</text><line x1="55.50" x2="61.80" y1="240.90" y2="240.90" stroke="#111" stroke-width="1.25"/><text x="54.00" y="242.20" font-size="4.9" text-anchor="end" fill="#333" textLength="7.6" lengthAdjust="spacingAndGlyphs">500</text><line x1="72.10" x2="77.90" y1="59.60" y2="59.60" stroke="#111" stroke-width="1.25"/><text x="79.10" y="60.90" font-size="4.9" text-anchor="start" fill="#333" textLength="10.8" lengthAdjust="spacingAndGlyphs">6000</text><line x1="72.10" x2="77.90" y1="89.70" y2="89.70" stroke="#111" stroke-width="1.25"/><text x="79.10" y="91.00" font-size="4.9" text-anchor="start" fill="#333" textLength="10.8" lengthAdjust="spacingAndGlyphs">5000</text><line x1="72.10" x2="77.90" y1="120.80" y2="120.80" stroke="#111" stroke-width="1.25"/><text x="79.10" y="122.10" font-size="4.9" text-anchor="start" fill="#333" textLength="10.8" lengthAdjust="spacingAndGlyphs">4000</text><line x1="72.10" x2="77.90" y1="157.40" y2="157.40" stroke="#111" stroke-width="1.25"/><text x="79.10" y="158.70" font-size="4.9" text-anchor="start" fill="#333" textLength="10.8" lengthAdjust="spacingAndGlyphs">3000</text><line x1="72.10" x2="77.90" y1="199.00" y2="199.00" stroke="#111" stroke-width="1.25"/><text x="79.10" y="200.30" font-size="4.9" text-anchor="start" fill="#333" textLength="10.8" lengthAdjust="spacingAndGlyphs">2000</text><line x1="72.10" x2="77.90" y1="236.80" y2="236.80" stroke="#111" stroke-width="1.25"/><text x="79.10" y="238.10" font-size="4.9" text-anchor="start" fill="#333" textLength="10.8" lengthAdjust="spacingAndGlyphs">1000</text><line x1="55.50" x2="61.80" y1="254.10" y2="254.10" stroke="#111" stroke-width="1.25"/><path d="M57.50 253.50 L59.90 252.60 L59.90 255.60 L57.50 254.70Z" fill="#111"/><text x="54.00" y="255.40" font-size="4.9" text-anchor="end" fill="#333" textLength="7.6" lengthAdjust="spacingAndGlyphs">400</text><line x1="72.10" x2="77.90" y1="254.10" y2="254.10" stroke="#111" stroke-width="1.25"/><path d="M76.30 253.50 L73.90 252.60 L73.90 255.60 L76.30 254.70Z" fill="#111"/><text x="90.10" y="255.40" font-size="4.9" text-anchor="end" fill="#333" textLength="7.8" lengthAdjust="spacingAndGlyphs">800</text><text x="52.40" y="261.80" font-size="4.7" text-anchor="middle" fill="#333" textLength="14.6" lengthAdjust="spacingAndGlyphs">XXXXX</text><text x="81.20" y="261.80" font-size="4.7" text-anchor="middle" fill="#333" textLength="9.6" lengthAdjust="spacingAndGlyphs">H2O</text><text x="52.60" y="265.50" font-size="3.1" text-anchor="middle" fill="#666" textLength="6.6" lengthAdjust="spacingAndGlyphs">XX %</text><text x="81.20" y="265.50" font-size="3.1" text-anchor="middle" fill="#666" textLength="11.2" lengthAdjust="spacingAndGlyphs">bei 20°C</text><text x="51.90" y="269.70" font-size="4.0" text-anchor="middle" fill="#333" textLength="5.8" lengthAdjust="spacingAndGlyphs">l / h</text><text x="81.30" y="269.70" font-size="4.0" text-anchor="middle" fill="#333" textLength="7.4" lengthAdjust="spacingAndGlyphs">l / h</text><text x="52.00" y="272.90" font-size="2.7" text-anchor="middle" fill="#777" textLength="18.0" lengthAdjust="spacingAndGlyphs">PN10 / 200</text><text x="81.70" y="272.90" font-size="2.7" text-anchor="middle" fill="#777" textLength="18.0" lengthAdjust="spacingAndGlyphs">PN10 / 40°C</text><text transform="translate(46.60 137.90) rotate(-90)" font-size="2.6" fill="#6e6e6e" textLength="30" lengthAdjust="spacingAndGlyphs">SGT 335 PA PVDF EPDM</text><text transform="translate(46.60 180.40) rotate(-90)" font-size="2.6" fill="#6e6e6e" textLength="31" lengthAdjust="spacingAndGlyphs">V 5.50 PVC 40857 A/T</text><text transform="translate(46.60 231.40) rotate(-90)" font-size="2.6" fill="#6e6e6e" textLength="36" lengthAdjust="spacingAndGlyphs">NR. 1234 5678 90 12 11</text><text transform="translate(90.10 193.90) rotate(-90)" font-size="2.6" fill="#6e6e6e" textLength="15" lengthAdjust="spacingAndGlyphs">ID 19 23 45</text><text transform="translate(90.10 231.70) rotate(-90)" font-size="2.6" fill="#6e6e6e" textLength="26.5" lengthAdjust="spacingAndGlyphs">GEORG FISCHER +GF+ SK</text></g>
</svg>
<div class="t" style="left:196.60px;top:54px;font-size:10.2px;color:#165f88;font-weight:700;transform:scaleX(0.9579);-webkit-text-stroke:0.2px">Scale speciali per tipo 335/350</div>
<div class="t" style="left:196.60px;top:65px;font-size:10.2px;color:#165f88;font-weight:700;transform:scaleX(0.8943);-webkit-text-stroke:0.2px">Imp. GPM GPM</div>
<div class="t" style="left:210.30px;top:92px;font-size:10.2px;color:#165f88;font-weight:700;transform:scaleX(0.8501);-webkit-text-stroke:0.2px">d</div>
<div class="t" style="left:229.50px;top:92px;font-size:10.2px;color:#165f88;font-weight:700;transform:scaleX(0.8153);-webkit-text-stroke:0.2px">DN</div>
<div class="t" style="left:248.50px;top:92px;font-size:10.2px;color:#165f88;font-weight:700;transform:scaleX(0.9138);-webkit-text-stroke:0.2px">pollici</div>
<div class="t" style="left:283.00px;top:92px;font-size:10.2px;color:#165f88;font-weight:700;transform:scaleX(0.9037);-webkit-text-stroke:0.2px">Campo di misura</div>
<div class="t" style="left:365.30px;top:92px;font-size:10.2px;color:#165f88;font-weight:700;transform:scaleX(0.9175);-webkit-text-stroke:0.2px">Corrispondente a scala acqua</div>
<div class="t" style="left:531.60px;top:92px;font-size:10.2px;color:#165f88;font-weight:700;transform:scaleX(0.8537);-webkit-text-stroke:0.2px">Codice</div>
<div class="t" style="left:570.30px;top:92px;font-size:10.2px;color:#165f88;font-weight:700;transform:scaleX(0.8744);-webkit-text-stroke:0.2px">Peso</div>
<div class="t" style="left:197.90px;top:103px;font-size:7.2px;color:#3a7499;letter-spacing:0.378px">(mm)</div>
<div class="t" style="left:223.80px;top:103px;font-size:7.2px;color:#3a7499;letter-spacing:0.378px">(mm)</div>
<div class="t" style="left:256.70px;top:103px;font-size:7.2px;color:#3a7499;letter-spacing:0.183px">(inch)</div>
<div class="t" style="left:325.70px;top:103px;font-size:7.2px;color:#3a7499;letter-spacing:0.529px">(gal/min)</div>
<div class="t" style="left:482.70px;top:103px;font-size:7.2px;color:#3a7499;letter-spacing:0.852px">(l/h)</div>
<div class="t" style="left:579.60px;top:103px;font-size:7.2px;color:#3a7499;transform:scaleX(0.9846)">(kg)</div>
<div class="t" style="left:206.00px;top:117px;font-size:10.2px;color:#1e1e1e;transform:scaleX(0.8725);-webkit-text-stroke:0.45px">32</div>
<div class="t" style="left:231.90px;top:117px;font-size:10.2px;color:#1e1e1e;transform:scaleX(0.8725);-webkit-text-stroke:0.45px">25</div>
<div class="t" style="left:270.75px;top:117px;font-size:10.2px;color:#1e1e1e;transform:scaleX(0.8725);-webkit-text-stroke:0.45px">1</div>
<div class="t" style="left:305.61px;top:117px;font-size:10.2px;color:#1e1e1e;transform:scaleX(0.8725);-webkit-text-stroke:0.45px">0,183 - 1,830</div>
<div class="t" style="left:470.91px;top:117px;font-size:10.2px;color:#1e1e1e;transform:scaleX(0.8725);-webkit-text-stroke:0.45px">50-500</div>
<div class="t" style="left:509.91px;top:117px;font-size:10.2px;color:#111;font-weight:700;transform:scaleX(0.9000);-webkit-text-stroke:0.35px">199 335 670</div>
<div class="t" style="left:569.65px;top:117px;font-size:10.2px;color:#1e1e1e;transform:scaleX(0.8725);-webkit-text-stroke:0.45px">0,050</div>
<div class="t" style="left:206.00px;top:130px;font-size:10.2px;color:#1e1e1e;transform:scaleX(0.8725);-webkit-text-stroke:0.45px">32</div>
<div class="t" style="left:231.90px;top:130px;font-size:10.2px;color:#1e1e1e;transform:scaleX(0.8725);-webkit-text-stroke:0.45px">25</div>
<div class="t" style="left:270.75px;top:130px;font-size:10.2px;color:#1e1e1e;transform:scaleX(0.8725);-webkit-text-stroke:0.45px">1</div>
<div class="t" style="left:305.61px;top:130px;font-size:10.2px;color:#1e1e1e;transform:scaleX(0.8725);-webkit-text-stroke:0.45px">0,366 - 3,660</div>
<div class="t" style="left:461.03px;top:130px;font-size:10.2px;color:#1e1e1e;transform:scaleX(0.8725);-webkit-text-stroke:0.45px">100-1000</div>
<div class="t" style="left:509.91px;top:130px;font-size:10.2px;color:#111;font-weight:700;transform:scaleX(0.9000);-webkit-text-stroke:0.35px">199 335 671</div>
<div class="t" style="left:569.65px;top:130px;font-size:10.2px;color:#1e1e1e;transform:scaleX(0.8725);-webkit-text-stroke:0.45px">0,050</div>
<div class="t" style="left:206.00px;top:143px;font-size:10.2px;color:#1e1e1e;transform:scaleX(0.8725);-webkit-text-stroke:0.45px">40</div>
<div class="t" style="left:231.90px;top:143px;font-size:10.2px;color:#1e1e1e;transform:scaleX(0.8725);-webkit-text-stroke:0.45px">32</div>
<div class="t" style="left:262.27px;top:143px;font-size:10.2px;color:#1e1e1e;transform:scaleX(0.7900);-webkit-text-stroke:0.45px">1 ¼</div>
<div class="t" style="left:305.61px;top:143px;font-size:10.2px;color:#1e1e1e;transform:scaleX(0.8725);-webkit-text-stroke:0.45px">0,550 - 5,500</div>
<div class="t" style="left:461.03px;top:143px;font-size:10.2px;color:#1e1e1e;transform:scaleX(0.8725);-webkit-text-stroke:0.45px">150-1500</div>
<div class="t" style="left:509.91px;top:143px;font-size:10.2px;color:#111;font-weight:700;transform:scaleX(0.9000);-webkit-text-stroke:0.35px">199 335 672</div>
<div class="t" style="left:569.65px;top:143px;font-size:10.2px;color:#1e1e1e;transform:scaleX(0.8725);-webkit-text-stroke:0.45px">0,050</div>
<div class="t" style="left:206.00px;top:156px;font-size:10.2px;color:#1e1e1e;transform:scaleX(0.8725);-webkit-text-stroke:0.45px">40</div>
<div class="t" style="left:231.90px;top:156px;font-size:10.2px;color:#1e1e1e;transform:scaleX(0.8725);-webkit-text-stroke:0.45px">32</div>
<div class="t" style="left:262.27px;top:156px;font-size:10.2px;color:#1e1e1e;transform:scaleX(0.7900);-webkit-text-stroke:0.45px">1 ¼</div>
<div class="t" style="left:305.61px;top:156px;font-size:10.2px;color:#1e1e1e;transform:scaleX(0.8725);-webkit-text-stroke:0.45px">0,916 - 9,160</div>
<div class="t" style="left:461.03px;top:156px;font-size:10.2px;color:#1e1e1e;transform:scaleX(0.8725);-webkit-text-stroke:0.45px">250-2500</div>
<div class="t" style="left:509.91px;top:156px;font-size:10.2px;color:#111;font-weight:700;transform:scaleX(0.9000);-webkit-text-stroke:0.35px">199 335 673</div>
<div class="t" style="left:569.65px;top:156px;font-size:10.2px;color:#1e1e1e;transform:scaleX(0.8725);-webkit-text-stroke:0.45px">0,050</div>
<div class="t" style="left:206.00px;top:169px;font-size:10.2px;color:#1e1e1e;transform:scaleX(0.8725);-webkit-text-stroke:0.45px">50</div>
<div class="t" style="left:231.90px;top:169px;font-size:10.2px;color:#1e1e1e;transform:scaleX(0.8725);-webkit-text-stroke:0.45px">40</div>
<div class="t" style="left:262.27px;top:169px;font-size:10.2px;color:#1e1e1e;transform:scaleX(0.7900);-webkit-text-stroke:0.45px">1 ½</div>
<div class="t" style="left:305.61px;top:169px;font-size:10.2px;color:#1e1e1e;transform:scaleX(0.8725);-webkit-text-stroke:0.45px">0,733 - 7,330</div>
<div class="t" style="left:461.03px;top:169px;font-size:10.2px;color:#1e1e1e;transform:scaleX(0.8725);-webkit-text-stroke:0.45px">200-2000</div>
<div class="t" style="left:509.91px;top:169px;font-size:10.2px;color:#111;font-weight:700;transform:scaleX(0.9000);-webkit-text-stroke:0.35px">199 335 674</div>
<div class="t" style="left:569.65px;top:169px;font-size:10.2px;color:#1e1e1e;transform:scaleX(0.8725);-webkit-text-stroke:0.45px">0,050</div>
<div class="t" style="left:206.00px;top:182px;font-size:10.2px;color:#1e1e1e;transform:scaleX(0.8725);-webkit-text-stroke:0.45px">50</div>
<div class="t" style="left:231.90px;top:182px;font-size:10.2px;color:#1e1e1e;transform:scaleX(0.8725);-webkit-text-stroke:0.45px">40</div>
<div class="t" style="left:262.27px;top:182px;font-size:10.2px;color:#1e1e1e;transform:scaleX(0.7900);-webkit-text-stroke:0.45px">1 ½</div>
<div class="t" style="left:300.66px;top:182px;font-size:10.2px;color:#1e1e1e;transform:scaleX(0.8725);-webkit-text-stroke:0.45px">1,090 - 10,900</div>
<div class="t" style="left:461.03px;top:182px;font-size:10.2px;color:#1e1e1e;transform:scaleX(0.8725);-webkit-text-stroke:0.45px">300-3000</div>
<div class="t" style="left:509.91px;top:182px;font-size:10.2px;color:#111;font-weight:700;transform:scaleX(0.9000);-webkit-text-stroke:0.35px">199 335 675</div>
<div class="t" style="left:569.65px;top:182px;font-size:10.2px;color:#1e1e1e;transform:scaleX(0.8725);-webkit-text-stroke:0.45px">0,050</div>
<div class="t" style="left:206.00px;top:196px;font-size:10.2px;color:#1e1e1e;transform:scaleX(0.8725);-webkit-text-stroke:0.45px">50</div>
<div class="t" style="left:231.90px;top:196px;font-size:10.2px;color:#1e1e1e;transform:scaleX(0.8725);-webkit-text-stroke:0.45px">40</div>
<div class="t" style="left:262.27px;top:196px;font-size:10.2px;color:#1e1e1e;transform:scaleX(0.7900);-webkit-text-stroke:0.45px">1 ½</div>
<div class="t" style="left:300.66px;top:196px;font-size:10.2px;color:#1e1e1e;transform:scaleX(0.8725);-webkit-text-stroke:0.45px">2,190 - 21,900</div>
<div class="t" style="left:461.03px;top:196px;font-size:10.2px;color:#1e1e1e;transform:scaleX(0.8725);-webkit-text-stroke:0.45px">600-6000</div>
<div class="t" style="left:509.91px;top:196px;font-size:10.2px;color:#111;font-weight:700;transform:scaleX(0.9000);-webkit-text-stroke:0.35px">199 335 676</div>
<div class="t" style="left:569.65px;top:196px;font-size:10.2px;color:#1e1e1e;transform:scaleX(0.8725);-webkit-text-stroke:0.45px">0,050</div>
<div class="t" style="left:206.00px;top:209px;font-size:10.2px;color:#1e1e1e;transform:scaleX(0.8725);-webkit-text-stroke:0.45px">63</div>
<div class="t" style="left:231.90px;top:209px;font-size:10.2px;color:#1e1e1e;transform:scaleX(0.8725);-webkit-text-stroke:0.45px">50</div>
<div class="t" style="left:270.75px;top:209px;font-size:10.2px;color:#1e1e1e;transform:scaleX(0.8725);-webkit-text-stroke:0.45px">2</div>
<div class="t" style="left:300.66px;top:209px;font-size:10.2px;color:#1e1e1e;transform:scaleX(0.8725);-webkit-text-stroke:0.45px">2,200 - 22,000</div>
<div class="t" style="left:461.03px;top:209px;font-size:10.2px;color:#1e1e1e;transform:scaleX(0.8725);-webkit-text-stroke:0.45px">600-6000</div>
<div class="t" style="left:509.91px;top:209px;font-size:10.2px;color:#111;font-weight:700;transform:scaleX(0.9000);-webkit-text-stroke:0.35px">199 335 677</div>
<div class="t" style="left:569.65px;top:209px;font-size:10.2px;color:#1e1e1e;transform:scaleX(0.8725);-webkit-text-stroke:0.45px">0,050</div>
<div class="t" style="left:206.00px;top:222px;font-size:10.2px;color:#1e1e1e;transform:scaleX(0.8725);-webkit-text-stroke:0.45px">63</div>
<div class="t" style="left:231.90px;top:222px;font-size:10.2px;color:#1e1e1e;transform:scaleX(0.8725);-webkit-text-stroke:0.45px">50</div>
<div class="t" style="left:270.75px;top:222px;font-size:10.2px;color:#1e1e1e;transform:scaleX(0.8725);-webkit-text-stroke:0.45px">2</div>
<div class="t" style="left:300.66px;top:222px;font-size:10.2px;color:#1e1e1e;transform:scaleX(0.8725);-webkit-text-stroke:0.45px">3,660 - 36,600</div>
<div class="t" style="left:451.14px;top:222px;font-size:10.2px;color:#1e1e1e;transform:scaleX(0.8725);-webkit-text-stroke:0.45px">1000-10000</div>
<div class="t" style="left:509.91px;top:222px;font-size:10.2px;color:#111;font-weight:700;transform:scaleX(0.9000);-webkit-text-stroke:0.35px">199 335 678</div>
<div class="t" style="left:569.65px;top:222px;font-size:10.2px;color:#1e1e1e;transform:scaleX(0.8725);-webkit-text-stroke:0.45px">0,050</div>
<div class="t" style="left:206.00px;top:235px;font-size:10.2px;color:#1e1e1e;transform:scaleX(0.8725);-webkit-text-stroke:0.45px">63</div>
<div class="t" style="left:231.90px;top:235px;font-size:10.2px;color:#1e1e1e;transform:scaleX(0.8725);-webkit-text-stroke:0.45px">50</div>
<div class="t" style="left:270.75px;top:235px;font-size:10.2px;color:#1e1e1e;transform:scaleX(0.8725);-webkit-text-stroke:0.45px">2</div>
<div class="t" style="left:300.66px;top:235px;font-size:10.2px;color:#1e1e1e;transform:scaleX(0.8725);-webkit-text-stroke:0.45px">5,490 - 54,900</div>
<div class="t" style="left:451.14px;top:235px;font-size:10.2px;color:#1e1e1e;transform:scaleX(0.8725);-webkit-text-stroke:0.45px">1500-15000</div>
<div class="t" style="left:509.91px;top:235px;font-size:10.2px;color:#111;font-weight:700;transform:scaleX(0.9000);-webkit-text-stroke:0.35px">199 335 679</div>
<div class="t" style="left:569.65px;top:235px;font-size:10.2px;color:#1e1e1e;transform:scaleX(0.8725);-webkit-text-stroke:0.45px">0,050</div>
<div class="t" style="left:206.00px;top:248px;font-size:10.2px;color:#1e1e1e;transform:scaleX(0.8725);-webkit-text-stroke:0.45px">75</div>
<div class="t" style="left:231.90px;top:248px;font-size:10.2px;color:#1e1e1e;transform:scaleX(0.8725);-webkit-text-stroke:0.45px">65</div>
<div class="t" style="left:262.27px;top:248px;font-size:10.2px;color:#1e1e1e;transform:scaleX(0.7900);-webkit-text-stroke:0.45px">2 ½</div>
<div class="t" style="left:300.66px;top:248px;font-size:10.2px;color:#1e1e1e;transform:scaleX(0.8725);-webkit-text-stroke:0.45px">7,320 - 73,200</div>
<div class="t" style="left:451.14px;top:248px;font-size:10.2px;color:#1e1e1e;transform:scaleX(0.8725);-webkit-text-stroke:0.45px">2000-20000</div>
<div class="t" style="left:509.91px;top:248px;font-size:10.2px;color:#111;font-weight:700;transform:scaleX(0.9000);-webkit-text-stroke:0.35px">199 335 680</div>
<div class="t" style="left:569.65px;top:248px;font-size:10.2px;color:#1e1e1e;transform:scaleX(0.8725);-webkit-text-stroke:0.45px">0,050</div>
<div class="t" style="left:206.00px;top:261px;font-size:10.2px;color:#1e1e1e;transform:scaleX(0.8725);-webkit-text-stroke:0.45px">75</div>
<div class="t" style="left:231.90px;top:261px;font-size:10.2px;color:#1e1e1e;transform:scaleX(0.8725);-webkit-text-stroke:0.45px">65</div>
<div class="t" style="left:262.27px;top:261px;font-size:10.2px;color:#1e1e1e;transform:scaleX(0.7900);-webkit-text-stroke:0.45px">2 ½</div>
<div class="t" style="left:290.78px;top:261px;font-size:10.2px;color:#1e1e1e;transform:scaleX(0.8725);-webkit-text-stroke:0.45px">10,980 - 109,800</div>
<div class="t" style="left:451.14px;top:261px;font-size:10.2px;color:#1e1e1e;transform:scaleX(0.8725);-webkit-text-stroke:0.45px">3000-30000</div>
<div class="t" style="left:509.91px;top:261px;font-size:10.2px;color:#111;font-weight:700;transform:scaleX(0.9000);-webkit-text-stroke:0.35px">199 335 681</div>
<div class="t" style="left:569.65px;top:261px;font-size:10.2px;color:#1e1e1e;transform:scaleX(0.8725);-webkit-text-stroke:0.45px">0,050</div>
<div class="t" style="left:206.00px;top:274px;font-size:10.2px;color:#1e1e1e;transform:scaleX(0.8725);-webkit-text-stroke:0.45px">75</div>
<div class="t" style="left:231.90px;top:274px;font-size:10.2px;color:#1e1e1e;transform:scaleX(0.8725);-webkit-text-stroke:0.45px">65</div>
<div class="t" style="left:262.27px;top:274px;font-size:10.2px;color:#1e1e1e;transform:scaleX(0.7900);-webkit-text-stroke:0.45px">2 ½</div>
<div class="t" style="left:290.78px;top:274px;font-size:10.2px;color:#1e1e1e;transform:scaleX(0.8725);-webkit-text-stroke:0.45px">29,280 - 219,600</div>
<div class="t" style="left:451.14px;top:274px;font-size:10.2px;color:#1e1e1e;transform:scaleX(0.8725);-webkit-text-stroke:0.45px">8000-60000</div>
<div class="t" style="left:509.91px;top:274px;font-size:10.2px;color:#111;font-weight:700;transform:scaleX(0.9000);-webkit-text-stroke:0.35px">199 335 682</div>
<div class="t" style="left:569.65px;top:274px;font-size:10.2px;color:#1e1e1e;transform:scaleX(0.8725);-webkit-text-stroke:0.45px">0,050</div>
<div class="t" style="left:196.60px;top:321px;font-size:10.2px;color:#165f88;font-weight:700;transform:scaleX(0.9368);-webkit-text-stroke:0.2px">Scale speciali per tipo 335/350 US GPM</div>
<div class="t" style="left:210.30px;top:349px;font-size:10.2px;color:#165f88;font-weight:700;transform:scaleX(0.8501);-webkit-text-stroke:0.2px">d</div>
<div class="t" style="left:229.50px;top:349px;font-size:10.2px;color:#165f88;font-weight:700;transform:scaleX(0.8153);-webkit-text-stroke:0.2px">DN</div>
<div class="t" style="left:248.50px;top:349px;font-size:10.2px;color:#165f88;font-weight:700;transform:scaleX(0.9138);-webkit-text-stroke:0.2px">pollici</div>
<div class="t" style="left:283.00px;top:349px;font-size:10.2px;color:#165f88;font-weight:700;transform:scaleX(0.9037);-webkit-text-stroke:0.2px">Campo di misura</div>
<div class="t" style="left:359.10px;top:349px;font-size:10.2px;color:#165f88;font-weight:700;transform:scaleX(0.9201);-webkit-text-stroke:0.2px">Corrispondente</div>
<div class="t" style="left:368.40px;top:360px;font-size:10.2px;color:#165f88;font-weight:700;transform:scaleX(0.9130);-webkit-text-stroke:0.2px">a scala acqua</div>
<div class="t" style="left:462.40px;top:349px;font-size:10.2px;color:#165f88;font-weight:700;transform:scaleX(0.8537);-webkit-text-stroke:0.2px">Codice</div>
<div class="t" style="left:501.10px;top:349px;font-size:10.2px;color:#165f88;font-weight:700;transform:scaleX(0.8744);-webkit-text-stroke:0.2px">Peso</div>
<div class="t" style="left:197.90px;top:360px;font-size:7.2px;color:#3a7499;letter-spacing:0.378px">(mm)</div>
<div class="t" style="left:223.80px;top:360px;font-size:7.2px;color:#3a7499;letter-spacing:0.378px">(mm)</div>
<div class="t" style="left:256.70px;top:360px;font-size:7.2px;color:#3a7499;letter-spacing:0.183px">(inch)</div>
<div class="t" style="left:325.70px;top:360px;font-size:7.2px;color:#3a7499;letter-spacing:0.529px">(gal/min)</div>
<div class="t" style="left:413.30px;top:371px;font-size:7.2px;color:#3a7499;letter-spacing:0.852px">(l/h)</div>
<div class="t" style="left:510.40px;top:360px;font-size:7.2px;color:#3a7499;transform:scaleX(0.9846)">(kg)</div>
<div class="t" style="left:206.00px;top:384px;font-size:10.2px;color:#1e1e1e;transform:scaleX(0.8725);-webkit-text-stroke:0.45px">32</div>
<div class="t" style="left:231.90px;top:384px;font-size:10.2px;color:#1e1e1e;transform:scaleX(0.8725);-webkit-text-stroke:0.45px">25</div>
<div class="t" style="left:270.75px;top:384px;font-size:10.2px;color:#1e1e1e;transform:scaleX(0.8725);-webkit-text-stroke:0.45px">1</div>
<div class="t" style="left:315.49px;top:384px;font-size:10.2px;color:#1e1e1e;transform:scaleX(0.8725);-webkit-text-stroke:0.45px">0,22 - 2,20</div>
<div class="t" style="left:396.58px;top:384px;font-size:10.2px;color:#1e1e1e;transform:scaleX(0.8725);-webkit-text-stroke:0.45px">50 - 500</div>
<div class="t" style="left:440.71px;top:384px;font-size:10.2px;color:#111;font-weight:700;transform:scaleX(0.9000);-webkit-text-stroke:0.35px">199 335 685</div>
<div class="t" style="left:500.45px;top:384px;font-size:10.2px;color:#1e1e1e;transform:scaleX(0.8725);-webkit-text-stroke:0.45px">0,050</div>
<div class="t" style="left:206.00px;top:397px;font-size:10.2px;color:#1e1e1e;transform:scaleX(0.8725);-webkit-text-stroke:0.45px">32</div>
<div class="t" style="left:231.90px;top:397px;font-size:10.2px;color:#1e1e1e;transform:scaleX(0.8725);-webkit-text-stroke:0.45px">25</div>
<div class="t" style="left:270.75px;top:397px;font-size:10.2px;color:#1e1e1e;transform:scaleX(0.8725);-webkit-text-stroke:0.45px">1</div>
<div class="t" style="left:315.49px;top:397px;font-size:10.2px;color:#1e1e1e;transform:scaleX(0.8725);-webkit-text-stroke:0.45px">0,44 - 4,40</div>
<div class="t" style="left:386.69px;top:397px;font-size:10.2px;color:#1e1e1e;transform:scaleX(0.8725);-webkit-text-stroke:0.45px">100 - 1000</div>
<div class="t" style="left:440.71px;top:397px;font-size:10.2px;color:#111;font-weight:700;transform:scaleX(0.9000);-webkit-text-stroke:0.35px">199 335 686</div>
<div class="t" style="left:500.45px;top:397px;font-size:10.2px;color:#1e1e1e;transform:scaleX(0.8725);-webkit-text-stroke:0.45px">0,050</div>
<div class="t" style="left:206.00px;top:410px;font-size:10.2px;color:#1e1e1e;transform:scaleX(0.8725);-webkit-text-stroke:0.45px">40</div>
<div class="t" style="left:231.90px;top:410px;font-size:10.2px;color:#1e1e1e;transform:scaleX(0.8725);-webkit-text-stroke:0.45px">32</div>
<div class="t" style="left:262.27px;top:410px;font-size:10.2px;color:#1e1e1e;transform:scaleX(0.7900);-webkit-text-stroke:0.45px">1 ¼</div>
<div class="t" style="left:315.49px;top:410px;font-size:10.2px;color:#1e1e1e;transform:scaleX(0.8725);-webkit-text-stroke:0.45px">0,66 - 6,60</div>
<div class="t" style="left:386.69px;top:410px;font-size:10.2px;color:#1e1e1e;transform:scaleX(0.8725);-webkit-text-stroke:0.45px">150 - 1500</div>
<div class="t" style="left:440.71px;top:410px;font-size:10.2px;color:#111;font-weight:700;transform:scaleX(0.9000);-webkit-text-stroke:0.35px">199 335 687</div>
<div class="t" style="left:500.45px;top:410px;font-size:10.2px;color:#1e1e1e;transform:scaleX(0.8725);-webkit-text-stroke:0.45px">0,002</div>
<div class="t" style="left:206.00px;top:424px;font-size:10.2px;color:#1e1e1e;transform:scaleX(0.8725);-webkit-text-stroke:0.45px">40</div>
<div class="t" style="left:231.90px;top:424px;font-size:10.2px;color:#1e1e1e;transform:scaleX(0.8725);-webkit-text-stroke:0.45px">32</div>
<div class="t" style="left:262.27px;top:424px;font-size:10.2px;color:#1e1e1e;transform:scaleX(0.7900);-webkit-text-stroke:0.45px">1 ¼</div>
<div class="t" style="left:311.21px;top:424px;font-size:10.2px;color:#1e1e1e;transform:scaleX(0.8725);-webkit-text-stroke:0.45px">1,10 - 11,00</div>
<div class="t" style="left:386.69px;top:424px;font-size:10.2px;color:#1e1e1e;transform:scaleX(0.8725);-webkit-text-stroke:0.45px">250 - 2500</div>
<div class="t" style="left:440.71px;top:424px;font-size:10.2px;color:#111;font-weight:700;transform:scaleX(0.9000);-webkit-text-stroke:0.35px">199 335 688</div>
<div class="t" style="left:500.45px;top:424px;font-size:10.2px;color:#1e1e1e;transform:scaleX(0.8725);-webkit-text-stroke:0.45px">0,050</div>
<div class="t" style="left:206.00px;top:437px;font-size:10.2px;color:#1e1e1e;transform:scaleX(0.8725);-webkit-text-stroke:0.45px">50</div>
<div class="t" style="left:231.90px;top:437px;font-size:10.2px;color:#1e1e1e;transform:scaleX(0.8725);-webkit-text-stroke:0.45px">40</div>
<div class="t" style="left:262.27px;top:437px;font-size:10.2px;color:#1e1e1e;transform:scaleX(0.7900);-webkit-text-stroke:0.45px">1 ½</div>
<div class="t" style="left:315.49px;top:437px;font-size:10.2px;color:#1e1e1e;transform:scaleX(0.8725);-webkit-text-stroke:0.45px">0,88 - 8,80</div>
<div class="t" style="left:386.69px;top:437px;font-size:10.2px;color:#1e1e1e;transform:scaleX(0.8725);-webkit-text-stroke:0.45px">200 - 2000</div>
<div class="t" style="left:440.71px;top:437px;font-size:10.2px;color:#111;font-weight:700;transform:scaleX(0.9000);-webkit-text-stroke:0.35px">199 335 689</div>
<div class="t" style="left:500.45px;top:437px;font-size:10.2px;color:#1e1e1e;transform:scaleX(0.8725);-webkit-text-stroke:0.45px">0,002</div>
<div class="t" style="left:206.00px;top:450px;font-size:10.2px;color:#1e1e1e;transform:scaleX(0.8725);-webkit-text-stroke:0.45px">50</div>
<div class="t" style="left:231.90px;top:450px;font-size:10.2px;color:#1e1e1e;transform:scaleX(0.8725);-webkit-text-stroke:0.45px">40</div>
<div class="t" style="left:262.27px;top:450px;font-size:10.2px;color:#1e1e1e;transform:scaleX(0.7900);-webkit-text-stroke:0.45px">1 ½</div>
<div class="t" style="left:310.56px;top:450px;font-size:10.2px;color:#1e1e1e;transform:scaleX(0.8725);-webkit-text-stroke:0.45px">1,32 - 13,20</div>
<div class="t" style="left:386.69px;top:450px;font-size:10.2px;color:#1e1e1e;transform:scaleX(0.8725);-webkit-text-stroke:0.45px">300 - 3000</div>
<div class="t" style="left:440.71px;top:450px;font-size:10.2px;color:#111;font-weight:700;transform:scaleX(0.9000);-webkit-text-stroke:0.35px">199 335 690</div>
<div class="t" style="left:500.45px;top:450px;font-size:10.2px;color:#1e1e1e;transform:scaleX(0.8725);-webkit-text-stroke:0.45px">0,050</div>
<div class="t" style="left:206.00px;top:463px;font-size:10.2px;color:#1e1e1e;transform:scaleX(0.8725);-webkit-text-stroke:0.45px">50</div>
<div class="t" style="left:231.90px;top:463px;font-size:10.2px;color:#1e1e1e;transform:scaleX(0.8725);-webkit-text-stroke:0.45px">40</div>
<div class="t" style="left:262.27px;top:463px;font-size:10.2px;color:#1e1e1e;transform:scaleX(0.7900);-webkit-text-stroke:0.45px">1 ½</div>
<div class="t" style="left:310.56px;top:463px;font-size:10.2px;color:#1e1e1e;transform:scaleX(0.8725);-webkit-text-stroke:0.45px">2,64 - 26,40</div>
<div class="t" style="left:386.69px;top:463px;font-size:10.2px;color:#1e1e1e;transform:scaleX(0.8725);-webkit-text-stroke:0.45px">600 - 6000</div>
<div class="t" style="left:440.71px;top:463px;font-size:10.2px;color:#111;font-weight:700;transform:scaleX(0.9000);-webkit-text-stroke:0.35px">199 335 691</div>
<div class="t" style="left:500.45px;top:463px;font-size:10.2px;color:#1e1e1e;transform:scaleX(0.8725);-webkit-text-stroke:0.45px">0,002</div>
<div class="t" style="left:206.00px;top:476px;font-size:10.2px;color:#1e1e1e;transform:scaleX(0.8725);-webkit-text-stroke:0.45px">63</div>
<div class="t" style="left:231.90px;top:476px;font-size:10.2px;color:#1e1e1e;transform:scaleX(0.8725);-webkit-text-stroke:0.45px">50</div>
<div class="t" style="left:270.75px;top:476px;font-size:10.2px;color:#1e1e1e;transform:scaleX(0.8725);-webkit-text-stroke:0.45px">2</div>
<div class="t" style="left:310.56px;top:476px;font-size:10.2px;color:#1e1e1e;transform:scaleX(0.8725);-webkit-text-stroke:0.45px">2,64 - 26,40</div>
<div class="t" style="left:386.69px;top:476px;font-size:10.2px;color:#1e1e1e;transform:scaleX(0.8725);-webkit-text-stroke:0.45px">600 - 6000</div>
<div class="t" style="left:440.71px;top:476px;font-size:10.2px;color:#111;font-weight:700;transform:scaleX(0.9000);-webkit-text-stroke:0.35px">199 335 692</div>
<div class="t" style="left:500.45px;top:476px;font-size:10.2px;color:#1e1e1e;transform:scaleX(0.8725);-webkit-text-stroke:0.45px">0,050</div>
<div class="t" style="left:206.00px;top:489px;font-size:10.2px;color:#1e1e1e;transform:scaleX(0.8725);-webkit-text-stroke:0.45px">63</div>
<div class="t" style="left:231.90px;top:489px;font-size:10.2px;color:#1e1e1e;transform:scaleX(0.8725);-webkit-text-stroke:0.45px">50</div>
<div class="t" style="left:270.75px;top:489px;font-size:10.2px;color:#1e1e1e;transform:scaleX(0.8725);-webkit-text-stroke:0.45px">2</div>
<div class="t" style="left:310.56px;top:489px;font-size:10.2px;color:#1e1e1e;transform:scaleX(0.8725);-webkit-text-stroke:0.45px">4,40 - 44,02</div>
<div class="t" style="left:376.81px;top:489px;font-size:10.2px;color:#1e1e1e;transform:scaleX(0.8725);-webkit-text-stroke:0.45px">1000 - 10000</div>
<div class="t" style="left:440.71px;top:489px;font-size:10.2px;color:#111;font-weight:700;transform:scaleX(0.9000);-webkit-text-stroke:0.35px">199 335 693</div>
<div class="t" style="left:500.45px;top:489px;font-size:10.2px;color:#1e1e1e;transform:scaleX(0.8725);-webkit-text-stroke:0.45px">0,002</div>
<div class="t" style="left:206.00px;top:502px;font-size:10.2px;color:#1e1e1e;transform:scaleX(0.8725);-webkit-text-stroke:0.45px">63</div>
<div class="t" style="left:231.90px;top:502px;font-size:10.2px;color:#1e1e1e;transform:scaleX(0.8725);-webkit-text-stroke:0.45px">50</div>
<div class="t" style="left:270.75px;top:502px;font-size:10.2px;color:#1e1e1e;transform:scaleX(0.8725);-webkit-text-stroke:0.45px">2</div>
<div class="t" style="left:310.56px;top:502px;font-size:10.2px;color:#1e1e1e;transform:scaleX(0.8725);-webkit-text-stroke:0.45px">6,60 - 66,04</div>
<div class="t" style="left:376.81px;top:502px;font-size:10.2px;color:#1e1e1e;transform:scaleX(0.8725);-webkit-text-stroke:0.45px">1500 - 15000</div>
<div class="t" style="left:440.71px;top:502px;font-size:10.2px;color:#111;font-weight:700;transform:scaleX(0.9000);-webkit-text-stroke:0.35px">199 335 694</div>
<div class="t" style="left:500.45px;top:502px;font-size:10.2px;color:#1e1e1e;transform:scaleX(0.8725);-webkit-text-stroke:0.45px">0,050</div>
<div class="t" style="left:206.00px;top:515px;font-size:10.2px;color:#1e1e1e;transform:scaleX(0.8725);-webkit-text-stroke:0.45px">75</div>
<div class="t" style="left:231.90px;top:515px;font-size:10.2px;color:#1e1e1e;transform:scaleX(0.8725);-webkit-text-stroke:0.45px">65</div>
<div class="t" style="left:262.27px;top:515px;font-size:10.2px;color:#1e1e1e;transform:scaleX(0.7900);-webkit-text-stroke:0.45px">2 ½</div>
<div class="t" style="left:310.56px;top:515px;font-size:10.2px;color:#1e1e1e;transform:scaleX(0.8725);-webkit-text-stroke:0.45px">8,80 - 88,00</div>
<div class="t" style="left:376.81px;top:515px;font-size:10.2px;color:#1e1e1e;transform:scaleX(0.8725);-webkit-text-stroke:0.45px">2000 - 20000</div>
<div class="t" style="left:440.71px;top:515px;font-size:10.2px;color:#111;font-weight:700;transform:scaleX(0.9000);-webkit-text-stroke:0.35px">199 335 695</div>
<div class="t" style="left:500.45px;top:515px;font-size:10.2px;color:#1e1e1e;transform:scaleX(0.8725);-webkit-text-stroke:0.45px">0,002</div>
<div class="t" style="left:206.00px;top:528px;font-size:10.2px;color:#1e1e1e;transform:scaleX(0.8725);-webkit-text-stroke:0.45px">75</div>
<div class="t" style="left:231.90px;top:528px;font-size:10.2px;color:#1e1e1e;transform:scaleX(0.8725);-webkit-text-stroke:0.45px">65</div>
<div class="t" style="left:262.27px;top:528px;font-size:10.2px;color:#1e1e1e;transform:scaleX(0.7900);-webkit-text-stroke:0.45px">2 ½</div>
<div class="t" style="left:300.66px;top:528px;font-size:10.2px;color:#1e1e1e;transform:scaleX(0.8725);-webkit-text-stroke:0.45px">13,20 - 132,00</div>
<div class="t" style="left:376.81px;top:528px;font-size:10.2px;color:#1e1e1e;transform:scaleX(0.8725);-webkit-text-stroke:0.45px">3000 - 30000</div>
<div class="t" style="left:440.71px;top:528px;font-size:10.2px;color:#111;font-weight:700;transform:scaleX(0.9000);-webkit-text-stroke:0.35px">199 335 696</div>
<div class="t" style="left:500.45px;top:528px;font-size:10.2px;color:#1e1e1e;transform:scaleX(0.8725);-webkit-text-stroke:0.45px">0,050</div>
<div class="t" style="left:206.00px;top:542px;font-size:10.2px;color:#1e1e1e;transform:scaleX(0.8725);-webkit-text-stroke:0.45px">75</div>
<div class="t" style="left:231.90px;top:542px;font-size:10.2px;color:#1e1e1e;transform:scaleX(0.8725);-webkit-text-stroke:0.45px">65</div>
<div class="t" style="left:262.27px;top:542px;font-size:10.2px;color:#1e1e1e;transform:scaleX(0.7900);-webkit-text-stroke:0.45px">2 ½</div>
<div class="t" style="left:300.66px;top:542px;font-size:10.2px;color:#1e1e1e;transform:scaleX(0.8725);-webkit-text-stroke:0.45px">35,20 - 264,00</div>
<div class="t" style="left:376.81px;top:542px;font-size:10.2px;color:#1e1e1e;transform:scaleX(0.8725);-webkit-text-stroke:0.45px">8000 - 60000</div>
<div class="t" style="left:440.71px;top:542px;font-size:10.2px;color:#111;font-weight:700;transform:scaleX(0.9000);-webkit-text-stroke:0.35px">199 335 697</div>
<div class="t" style="left:500.45px;top:542px;font-size:10.2px;color:#1e1e1e;transform:scaleX(0.8725);-webkit-text-stroke:0.45px">0,050</div>
<div class="t" style="left:196.60px;top:589px;font-size:10.2px;color:#165f88;font-weight:700;transform:scaleX(0.9579);-webkit-text-stroke:0.2px">Scale speciali per tipo 335/350</div>
<div class="t" style="left:196.60px;top:600px;font-size:10.2px;color:#165f88;font-weight:700;letter-spacing:0.069px;-webkit-text-stroke:0.2px">Aria/0 bar/Nm3/h</div>
<div class="t" style="left:210.30px;top:628px;font-size:10.2px;color:#165f88;font-weight:700;transform:scaleX(0.8501);-webkit-text-stroke:0.2px">d</div>
<div class="t" style="left:229.50px;top:628px;font-size:10.2px;color:#165f88;font-weight:700;transform:scaleX(0.8153);-webkit-text-stroke:0.2px">DN</div>
<div class="t" style="left:248.50px;top:628px;font-size:10.2px;color:#165f88;font-weight:700;transform:scaleX(0.9138);-webkit-text-stroke:0.2px">pollici</div>
<div class="t" style="left:292.50px;top:628px;font-size:10.2px;color:#165f88;font-weight:700;transform:scaleX(0.9283);-webkit-text-stroke:0.2px">Scale range</div>
<div class="t" style="left:346.60px;top:628px;font-size:10.2px;color:#165f88;font-weight:700;transform:scaleX(0.9201);-webkit-text-stroke:0.2px">Corrispondente</div>
<div class="t" style="left:355.90px;top:639px;font-size:10.2px;color:#165f88;font-weight:700;transform:scaleX(0.9130);-webkit-text-stroke:0.2px">a scala acqua</div>
<div class="t" style="left:449.50px;top:628px;font-size:10.2px;color:#165f88;font-weight:700;transform:scaleX(0.8537);-webkit-text-stroke:0.2px">Codice</div>
<div class="t" style="left:488.50px;top:628px;font-size:10.2px;color:#165f88;font-weight:700;transform:scaleX(0.8744);-webkit-text-stroke:0.2px">Peso</div>
<div class="t" style="left:197.90px;top:639px;font-size:7.2px;color:#3a7499;letter-spacing:0.378px">(mm)</div>
<div class="t" style="left:223.80px;top:639px;font-size:7.2px;color:#3a7499;letter-spacing:0.378px">(mm)</div>
<div class="t" style="left:256.70px;top:639px;font-size:7.2px;color:#3a7499;letter-spacing:0.183px">(inch)</div>
<div class="t" style="left:322.30px;top:639px;font-size:7.2px;color:#3a7499;letter-spacing:0.675px">(m<sup>3</sup>/h)</div>
<div class="t" style="left:400.80px;top:650px;font-size:7.2px;color:#3a7499;letter-spacing:0.852px">(l/h)</div>
<div class="t" style="left:497.80px;top:639px;font-size:7.2px;color:#3a7499;transform:scaleX(0.9846)">(kg)</div>
<div class="t" style="left:206.00px;top:663px;font-size:10.2px;color:#1e1e1e;transform:scaleX(0.8725);-webkit-text-stroke:0.45px">32</div>
<div class="t" style="left:231.90px;top:663px;font-size:10.2px;color:#1e1e1e;transform:scaleX(0.8725);-webkit-text-stroke:0.45px">25</div>
<div class="t" style="left:270.75px;top:663px;font-size:10.2px;color:#1e1e1e;transform:scaleX(0.8725);-webkit-text-stroke:0.45px">1</div>
<div class="t" style="left:308.34px;top:663px;font-size:10.2px;color:#1e1e1e;transform:scaleX(0.8725);-webkit-text-stroke:0.45px">2,0 - 15,0</div>
<div class="t" style="left:384.08px;top:663px;font-size:10.2px;color:#1e1e1e;transform:scaleX(0.8725);-webkit-text-stroke:0.45px">50 - 500</div>
<div class="t" style="left:427.81px;top:663px;font-size:10.2px;color:#111;font-weight:700;transform:scaleX(0.9000);-webkit-text-stroke:0.35px">199 350 655</div>
<div class="t" style="left:487.85px;top:663px;font-size:10.2px;color:#1e1e1e;transform:scaleX(0.8725);-webkit-text-stroke:0.45px">0,002</div>
<div class="t" style="left:206.00px;top:676px;font-size:10.2px;color:#1e1e1e;transform:scaleX(0.8725);-webkit-text-stroke:0.45px">32</div>
<div class="t" style="left:231.90px;top:676px;font-size:10.2px;color:#1e1e1e;transform:scaleX(0.8725);-webkit-text-stroke:0.45px">25</div>
<div class="t" style="left:270.75px;top:676px;font-size:10.2px;color:#1e1e1e;transform:scaleX(0.8725);-webkit-text-stroke:0.45px">1</div>
<div class="t" style="left:308.34px;top:676px;font-size:10.2px;color:#1e1e1e;transform:scaleX(0.8725);-webkit-text-stroke:0.45px">3,5 - 30,0</div>
<div class="t" style="left:374.19px;top:676px;font-size:10.2px;color:#1e1e1e;transform:scaleX(0.8725);-webkit-text-stroke:0.45px">100 - 1000</div>
<div class="t" style="left:427.81px;top:676px;font-size:10.2px;color:#111;font-weight:700;transform:scaleX(0.9000);-webkit-text-stroke:0.35px">199 350 656</div>
<div class="t" style="left:487.85px;top:676px;font-size:10.2px;color:#1e1e1e;transform:scaleX(0.8725);-webkit-text-stroke:0.45px">0,050</div>
<div class="t" style="left:206.00px;top:689px;font-size:10.2px;color:#1e1e1e;transform:scaleX(0.8725);-webkit-text-stroke:0.45px">40</div>
<div class="t" style="left:231.90px;top:689px;font-size:10.2px;color:#1e1e1e;transform:scaleX(0.8725);-webkit-text-stroke:0.45px">32</div>
<div class="t" style="left:262.27px;top:689px;font-size:10.2px;color:#1e1e1e;transform:scaleX(0.7900);-webkit-text-stroke:0.45px">1 ¼</div>
<div class="t" style="left:308.34px;top:689px;font-size:10.2px;color:#1e1e1e;transform:scaleX(0.8725);-webkit-text-stroke:0.45px">5,0 - 45,0</div>
<div class="t" style="left:374.19px;top:689px;font-size:10.2px;color:#1e1e1e;transform:scaleX(0.8725);-webkit-text-stroke:0.45px">150 - 1500</div>
<div class="t" style="left:427.81px;top:689px;font-size:10.2px;color:#111;font-weight:700;transform:scaleX(0.9000);-webkit-text-stroke:0.35px">199 350 657</div>
<div class="t" style="left:487.85px;top:689px;font-size:10.2px;color:#1e1e1e;transform:scaleX(0.8725);-webkit-text-stroke:0.45px">0,050</div>
<div class="t" style="left:206.00px;top:703px;font-size:10.2px;color:#1e1e1e;transform:scaleX(0.8725);-webkit-text-stroke:0.45px">40</div>
<div class="t" style="left:231.90px;top:703px;font-size:10.2px;color:#1e1e1e;transform:scaleX(0.8725);-webkit-text-stroke:0.45px">32</div>
<div class="t" style="left:262.27px;top:703px;font-size:10.2px;color:#1e1e1e;transform:scaleX(0.7900);-webkit-text-stroke:0.45px">1 ¼</div>
<div class="t" style="left:308.34px;top:703px;font-size:10.2px;color:#1e1e1e;transform:scaleX(0.8725);-webkit-text-stroke:0.45px">8,0 - 76,0</div>
<div class="t" style="left:374.19px;top:703px;font-size:10.2px;color:#1e1e1e;transform:scaleX(0.8725);-webkit-text-stroke:0.45px">250 - 2500</div>
<div class="t" style="left:427.81px;top:703px;font-size:10.2px;color:#111;font-weight:700;transform:scaleX(0.9000);-webkit-text-stroke:0.35px">199 350 658</div>
<div class="t" style="left:487.85px;top:703px;font-size:10.2px;color:#1e1e1e;transform:scaleX(0.8725);-webkit-text-stroke:0.45px">0,050</div>
<div class="t" style="left:206.00px;top:716px;font-size:10.2px;color:#1e1e1e;transform:scaleX(0.8725);-webkit-text-stroke:0.45px">50</div>
<div class="t" style="left:231.90px;top:716px;font-size:10.2px;color:#1e1e1e;transform:scaleX(0.8725);-webkit-text-stroke:0.45px">40</div>
<div class="t" style="left:262.27px;top:716px;font-size:10.2px;color:#1e1e1e;transform:scaleX(0.7900);-webkit-text-stroke:0.45px">1 ½</div>
<div class="t" style="left:308.34px;top:716px;font-size:10.2px;color:#1e1e1e;transform:scaleX(0.8725);-webkit-text-stroke:0.45px">7,0 - 60,0</div>
<div class="t" style="left:374.19px;top:716px;font-size:10.2px;color:#1e1e1e;transform:scaleX(0.8725);-webkit-text-stroke:0.45px">200 - 2000</div>
<div class="t" style="left:427.81px;top:716px;font-size:10.2px;color:#111;font-weight:700;transform:scaleX(0.9000);-webkit-text-stroke:0.35px">199 350 659</div>
<div class="t" style="left:487.85px;top:716px;font-size:10.2px;color:#1e1e1e;transform:scaleX(0.8725);-webkit-text-stroke:0.45px">0,050</div>
<div class="t" style="left:206.00px;top:729px;font-size:10.2px;color:#1e1e1e;transform:scaleX(0.8725);-webkit-text-stroke:0.45px">50</div>
<div class="t" style="left:231.90px;top:729px;font-size:10.2px;color:#1e1e1e;transform:scaleX(0.8725);-webkit-text-stroke:0.45px">40</div>
<div class="t" style="left:262.27px;top:729px;font-size:10.2px;color:#1e1e1e;transform:scaleX(0.7900);-webkit-text-stroke:0.45px">1 ½</div>
<div class="t" style="left:303.39px;top:729px;font-size:10.2px;color:#1e1e1e;transform:scaleX(0.8725);-webkit-text-stroke:0.45px">10,0 - 87,0</div>
<div class="t" style="left:376.66px;top:729px;font-size:10.2px;color:#1e1e1e;transform:scaleX(0.8725);-webkit-text-stroke:0.45px">300- 3000</div>
<div class="t" style="left:427.81px;top:729px;font-size:10.2px;color:#111;font-weight:700;transform:scaleX(0.9000);-webkit-text-stroke:0.35px">199 350 660</div>
<div class="t" style="left:487.85px;top:729px;font-size:10.2px;color:#1e1e1e;transform:scaleX(0.8725);-webkit-text-stroke:0.45px">0,002</div>
<div class="t" style="left:206.00px;top:742px;font-size:10.2px;color:#1e1e1e;transform:scaleX(0.8725);-webkit-text-stroke:0.45px">50</div>
<div class="t" style="left:231.90px;top:742px;font-size:10.2px;color:#1e1e1e;transform:scaleX(0.8725);-webkit-text-stroke:0.45px">40</div>
<div class="t" style="left:262.27px;top:742px;font-size:10.2px;color:#1e1e1e;transform:scaleX(0.7900);-webkit-text-stroke:0.45px">1 ½</div>
<div class="t" style="left:298.46px;top:742px;font-size:10.2px;color:#1e1e1e;transform:scaleX(0.8725);-webkit-text-stroke:0.45px">20,0 - 170,0</div>
<div class="t" style="left:374.19px;top:742px;font-size:10.2px;color:#1e1e1e;transform:scaleX(0.8725);-webkit-text-stroke:0.45px">600 - 6000</div>
<div class="t" style="left:427.81px;top:742px;font-size:10.2px;color:#111;font-weight:700;transform:scaleX(0.9000);-webkit-text-stroke:0.35px">199 350 661</div>
<div class="t" style="left:487.85px;top:742px;font-size:10.2px;color:#1e1e1e;transform:scaleX(0.8725);-webkit-text-stroke:0.45px">0,050</div>
<div class="t" style="left:206.00px;top:755px;font-size:10.2px;color:#1e1e1e;transform:scaleX(0.8725);-webkit-text-stroke:0.45px">63</div>
<div class="t" style="left:231.90px;top:755px;font-size:10.2px;color:#1e1e1e;transform:scaleX(0.8725);-webkit-text-stroke:0.45px">50</div>
<div class="t" style="left:270.75px;top:755px;font-size:10.2px;color:#1e1e1e;transform:scaleX(0.8725);-webkit-text-stroke:0.45px">2</div>
<div class="t" style="left:298.46px;top:755px;font-size:10.2px;color:#1e1e1e;transform:scaleX(0.8725);-webkit-text-stroke:0.45px">25,0 - 180,0</div>
<div class="t" style="left:374.19px;top:755px;font-size:10.2px;color:#1e1e1e;transform:scaleX(0.8725);-webkit-text-stroke:0.45px">600 - 6000</div>
<div class="t" style="left:427.81px;top:755px;font-size:10.2px;color:#111;font-weight:700;transform:scaleX(0.9000);-webkit-text-stroke:0.35px">199 350 662</div>
<div class="t" style="left:487.85px;top:755px;font-size:10.2px;color:#1e1e1e;transform:scaleX(0.8725);-webkit-text-stroke:0.45px">0,050</div>
<div class="t" style="left:206.00px;top:768px;font-size:10.2px;color:#1e1e1e;transform:scaleX(0.8725);-webkit-text-stroke:0.45px">63</div>
<div class="t" style="left:231.90px;top:768px;font-size:10.2px;color:#1e1e1e;transform:scaleX(0.8725);-webkit-text-stroke:0.45px">50</div>
<div class="t" style="left:270.75px;top:768px;font-size:10.2px;color:#1e1e1e;transform:scaleX(0.8725);-webkit-text-stroke:0.45px">2</div>
<div class="t" style="left:298.46px;top:768px;font-size:10.2px;color:#1e1e1e;transform:scaleX(0.8725);-webkit-text-stroke:0.45px">30,0 - 280,0</div>
<div class="t" style="left:364.31px;top:768px;font-size:10.2px;color:#1e1e1e;transform:scaleX(0.8725);-webkit-text-stroke:0.45px">1000 - 10000</div>
<div class="t" style="left:427.81px;top:768px;font-size:10.2px;color:#111;font-weight:700;transform:scaleX(0.9000);-webkit-text-stroke:0.35px">199 350 663</div>
<div class="t" style="left:487.85px;top:768px;font-size:10.2px;color:#1e1e1e;transform:scaleX(0.8725);-webkit-text-stroke:0.45px">0,050</div>
<div class="t" style="left:206.00px;top:781px;font-size:10.2px;color:#1e1e1e;transform:scaleX(0.8725);-webkit-text-stroke:0.45px">63</div>
<div class="t" style="left:231.90px;top:781px;font-size:10.2px;color:#1e1e1e;transform:scaleX(0.8725);-webkit-text-stroke:0.45px">50</div>
<div class="t" style="left:270.75px;top:781px;font-size:10.2px;color:#1e1e1e;transform:scaleX(0.8725);-webkit-text-stroke:0.45px">2</div>
<div class="t" style="left:298.46px;top:781px;font-size:10.2px;color:#1e1e1e;transform:scaleX(0.8725);-webkit-text-stroke:0.45px">50,0 - 440,0</div>
<div class="t" style="left:364.31px;top:781px;font-size:10.2px;color:#1e1e1e;transform:scaleX(0.8725);-webkit-text-stroke:0.45px">1500 - 15000</div>
<div class="t" style="left:427.81px;top:781px;font-size:10.2px;color:#111;font-weight:700;transform:scaleX(0.9000);-webkit-text-stroke:0.35px">199 350 664</div>
<div class="t" style="left:487.85px;top:781px;font-size:10.2px;color:#1e1e1e;transform:scaleX(0.8725);-webkit-text-stroke:0.45px">0,050</div>
<div class="t" style="left:206.00px;top:794px;font-size:10.2px;color:#1e1e1e;transform:scaleX(0.8725);-webkit-text-stroke:0.45px">75</div>
<div class="t" style="left:231.90px;top:794px;font-size:10.2px;color:#1e1e1e;transform:scaleX(0.8725);-webkit-text-stroke:0.45px">65</div>
<div class="t" style="left:262.27px;top:794px;font-size:10.2px;color:#1e1e1e;transform:scaleX(0.7900);-webkit-text-stroke:0.45px">2 ½</div>
<div class="t" style="left:298.46px;top:794px;font-size:10.2px;color:#1e1e1e;transform:scaleX(0.8725);-webkit-text-stroke:0.45px">70,0 - 580,0</div>
<div class="t" style="left:364.31px;top:794px;font-size:10.2px;color:#1e1e1e;transform:scaleX(0.8725);-webkit-text-stroke:0.45px">2000 - 20000</div>
<div class="t" style="left:427.81px;top:794px;font-size:10.2px;color:#111;font-weight:700;transform:scaleX(0.9000);-webkit-text-stroke:0.35px">199 350 665</div>
<div class="t" style="left:487.85px;top:794px;font-size:10.2px;color:#1e1e1e;transform:scaleX(0.8725);-webkit-text-stroke:0.45px">0,050</div>
<div class="t" style="left:206.00px;top:808px;font-size:10.2px;color:#1e1e1e;transform:scaleX(0.8725);-webkit-text-stroke:0.45px">75</div>
<div class="t" style="left:231.90px;top:808px;font-size:10.2px;color:#1e1e1e;transform:scaleX(0.8725);-webkit-text-stroke:0.45px">65</div>
<div class="t" style="left:262.27px;top:808px;font-size:10.2px;color:#1e1e1e;transform:scaleX(0.7900);-webkit-text-stroke:0.45px">2 ½</div>
<div class="t" style="left:293.51px;top:808px;font-size:10.2px;color:#1e1e1e;transform:scaleX(0.8725);-webkit-text-stroke:0.45px">100,0 - 900,0</div>
<div class="t" style="left:364.31px;top:808px;font-size:10.2px;color:#1e1e1e;transform:scaleX(0.8725);-webkit-text-stroke:0.45px">3000 - 30000</div>
<div class="t" style="left:427.81px;top:808px;font-size:10.2px;color:#111;font-weight:700;transform:scaleX(0.9000);-webkit-text-stroke:0.35px">199 350 666</div>
<div class="t" style="left:487.85px;top:808px;font-size:10.2px;color:#1e1e1e;transform:scaleX(0.8725);-webkit-text-stroke:0.45px">0,050</div>
<div class="t" style="left:206.00px;top:821px;font-size:10.2px;color:#1e1e1e;transform:scaleX(0.8725);-webkit-text-stroke:0.45px">75</div>
<div class="t" style="left:231.90px;top:821px;font-size:10.2px;color:#1e1e1e;transform:scaleX(0.8725);-webkit-text-stroke:0.45px">65</div>
<div class="t" style="left:262.27px;top:821px;font-size:10.2px;color:#1e1e1e;transform:scaleX(0.7900);-webkit-text-stroke:0.45px">2 ½</div>
<div class="t" style="left:288.56px;top:821px;font-size:10.2px;color:#1e1e1e;transform:scaleX(0.8725);-webkit-text-stroke:0.45px">230,0 - 1650,0</div>
<div class="t" style="left:364.31px;top:821px;font-size:10.2px;color:#1e1e1e;transform:scaleX(0.8725);-webkit-text-stroke:0.45px">8000 - 60000</div>
<div class="t" style="left:427.81px;top:821px;font-size:10.2px;color:#111;font-weight:700;transform:scaleX(0.9000);-webkit-text-stroke:0.35px">199 350 667</div>
<div class="t" style="left:487.85px;top:821px;font-size:10.2px;color:#1e1e1e;transform:scaleX(0.8725);-webkit-text-stroke:0.45px">0,050</div>
<div class="t" style="left:33.80px;top:927px;font-size:10.2px;color:#111;transform:scaleX(0.9588);-webkit-text-stroke:0.3px">670</div>
<div class="t" style="left:594.20px;top:927px;font-size:9.7px;color:#1b6689;font-weight:700;letter-spacing:0.773px;-webkit-text-stroke:0.3px">+GF+</div>
<div class="t" style="left:41.10px;top:285px;font-size:4.9px;color:#333;transform:scaleX(0.9326)">Example of special scale</div>
<div class="t" style="left:41.10px;top:553px;font-size:4.9px;color:#333;transform:scaleX(0.9326)">Example of special scale</div>
<div class="t" style="left:41.10px;top:820px;font-size:4.9px;color:#333;transform:scaleX(0.9326)">Example of special scale</div>
</body></html>
